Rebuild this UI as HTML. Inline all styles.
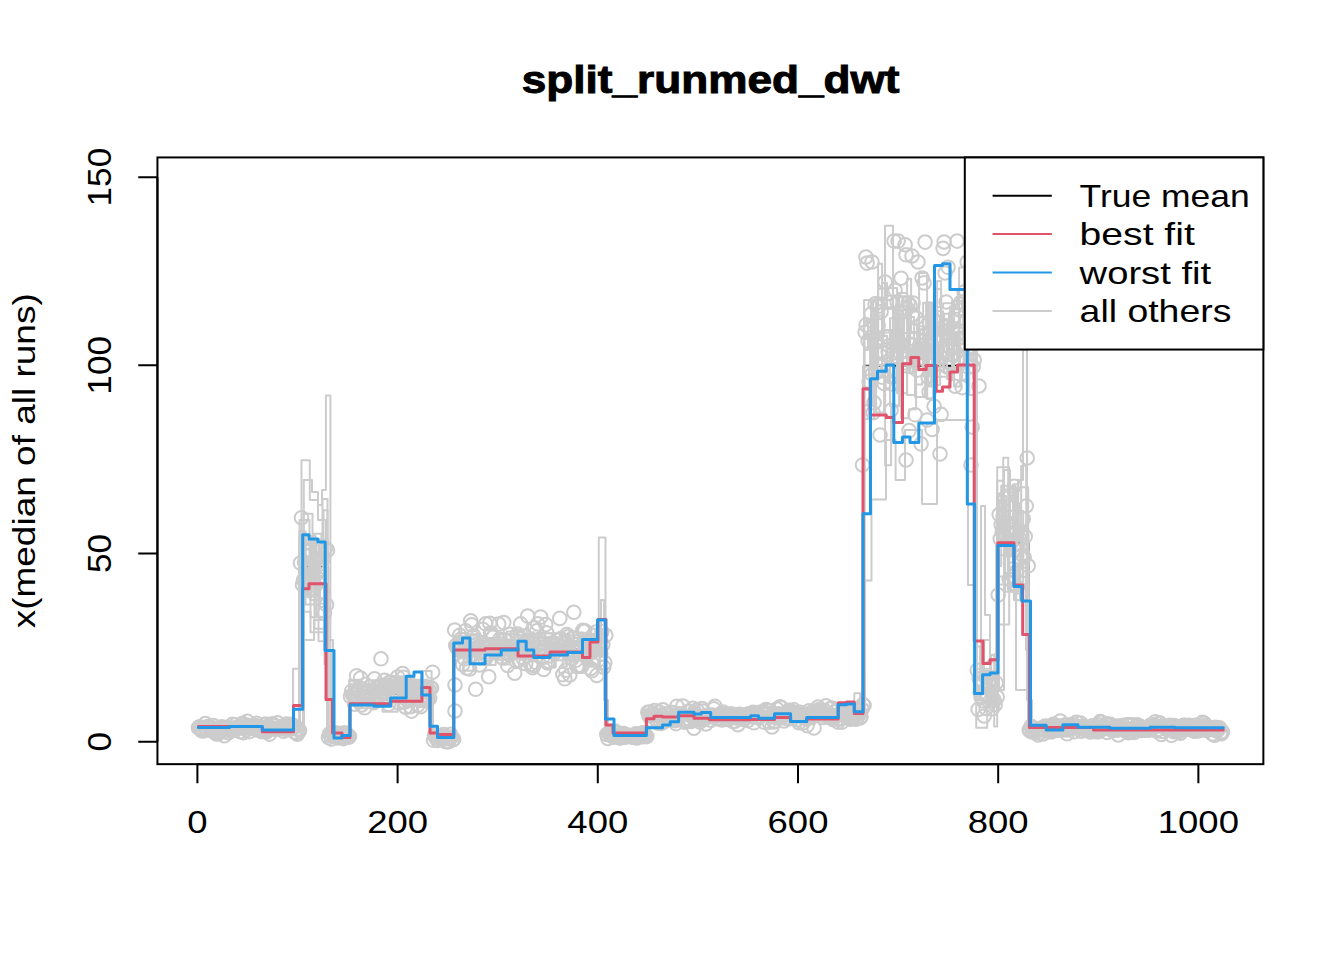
<!DOCTYPE html><html><head><meta charset="utf-8"><style>html,body{margin:0;padding:0;background:#fff;}svg{display:block;}</style></head><body>
<svg width="1344" height="960" viewBox="0 0 1344 960">
<rect width="1344" height="960" fill="#fff"/>
<defs><clipPath id="pc"><rect x="157.44" y="157.44" width="1105.92" height="606.72"/></clipPath></defs>
<g clip-path="url(#pc)" fill="none" stroke-linejoin="round" stroke-linecap="round">
<path d="M198.4 728.0H299.8V566.8H328.1V735.5H350.0V693.8H432.5V737.0H453.8V649.5H606.0V735.5H647.0V717.5H863.8V365.8H976.0V688.8H997.3V542.7H1028.5V728.5H1223.3" stroke="#000" stroke-width="2"/>
<g stroke="#CCCCCC" stroke-width="2">
<path d="M286 728H293V668.8H300V560H301.5V460.3H309.8V500H318V520H326V640H333V735H345"/>
<path d="M290 729H303.8V480H312V492H318V505H322V490H325.9V395.4H330.4V735H345"/>
<path d="M296 727H303V640H314V620H326V700H332V736H345"/>
<path d="M300 728H304V545H310V600H320V560H324V650H331V737"/>
<path d="M590 650H598.75V537.5H605.5V735H615"/>
<path d="M596 655H601V600H604V700H608V735"/>
<path d="M850 717H854.3V693.2H860.2V717H865V580.6H871.5V499.6H886V440H895.6V480H905V430H922V504H937V420H968V585H976V700H990"/>
<path d="M975 690H981V506H985V615H990V690"/>
<path d="M870 380H878V300H885V225.8H893V330H900V400"/>
<path d="M300 728H299V728"/>
<path d="M996 690H1004V470H1010V540H1018V480H1023V350H1027V700H1032V728H1045"/>
<path d="M990 690H999V500H1006V520H1014V600H1020V560H1026V650H1030V728H1040"/>
<path d="M980 688H984V640H990V700H996V545H1008V590H1016V690H1031V728"/>
<path d="M198.4 729.2H208.4V725.4H219.4V726.8H233.4V729.8H247.4V728.3H257.5V727.9H262.5V725.1H270.5V727.5H279.5V729.2H293.5V726.9H299.5V535.4H305.5V568.3H318.5V641.3H327.5V736.1H343.5V736.2H349.5V697.7H358.6V702.1H372.6V690.8H384.6V683.1H393.6V700.1H408.6V694.8H424.6V684.2H431.6V696.9H432.6V735.9H445.6V737.7H453.7V656.7H469.7V653.5H478.7V665.1H489.7V653.0H496.7V644.7H500.7V639.5H510.7V657.0H518.7V639.6H524.7V653.9H538.7V649.1H551.7V660.3H562.8V666.4H566.8V656.6H582.8V650.0H595.8V647.0H605.8V735.5H619.8V734.0H626.8V735.3H633.8V736.1H638.8V735.1H644.8V736.3H646.8V713.0H658.9V714.4H669.9V709.3H680.9V708.5H684.9V714.5H688.9V708.2H697.9V719.0H704.9V714.8H719.9V717.1H732.9V716.1H746.9V713.2H751.9V716.6H765.0V719.0H780.0V715.6H788.0V716.0H794.0V712.3H810.0V713.9H819.0V714.4H827.0V715.8H836.0V716.4H846.0V718.7H860.0V711.4H864.1V366.6H871.1V357.8H882.1V335.8H887.1V365.6H894.1V367.7H901.1V418.2H909.1V409.3H916.1V342.6H923.1V319.3H928.1V386.6H937.1V281.0H941.1V330.5H948.1V358.5H952.1V305.5H957.1V297.3H963.1V336.5H973.2V320.3H976.2V700.2H981.2V687.6H990.2V706.5H997.2V533.7H1003.2V457.7H1008.2V587.0H1018.2V565.8H1023.2V542.5H1028.2V727.9H1037.2V729.3H1048.2V729.8H1062.2V729.9H1076.3V727.7H1086.3V730.1H1102.3V729.1H1112.3V727.8H1126.3V729.4H1133.3V731.3H1138.3V730.3H1154.3V731.8H1167.3V729.0H1172.4V729.1H1186.4V729.7H1201.4V728.5H1208.4V728.7H1215.4V728.7H1222.4"/>
<path d="M198.4 729.1H213.4V727.4H222.4V726.8H235.4V728.5H244.4V726.4H257.5V726.1H273.5V725.7H281.5V728.0H293.5V726.5H298.5V727.5H299.5V586.7H310.5V632.2H324.5V600.2H327.5V734.3H340.5V734.2H345.5V736.0H349.5V698.0H353.6V693.6H361.6V687.2H373.6V693.3H383.6V692.0H393.6V698.2H398.6V702.7H411.6V681.9H424.6V690.0H428.6V686.8H432.6V735.3H437.6V738.2H452.6V737.7H453.7V643.5H462.7V639.4H473.7V639.4H482.7V638.0H495.7V659.8H502.7V649.3H515.7V651.2H524.7V641.4H538.7V655.3H547.7V637.4H557.8V646.6H567.8V641.3H579.8V645.7H589.8V666.8H599.8V651.7H604.8V655.7H605.8V734.0H621.8V735.8H626.8V733.0H639.8V735.8H646.8V714.7H661.9V714.1H673.9V713.0H679.9V716.9H690.9V714.9H704.9V713.1H720.9V714.4H734.9V715.7H746.9V717.6H754.9V711.3H770.0V715.8H777.0V713.3H784.0V711.6H794.0V714.4H800.0V717.0H805.0V713.9H819.0V711.2H823.0V714.2H835.0V710.9H849.0V714.9H860.0V719.0H864.1V389.9H869.1V369.9H873.1V299.5H882.1V283.1H887.1V307.3H895.1V348.0H904.1V338.4H915.1V359.2H921.1V342.3H927.1V398.9H934.1V332.5H940.1V334.9H949.1V312.8H958.1V315.1H969.2V395.1H976.2V700.0H988.2V676.9H997.2V624.5H1009.2V562.6H1013.2V484.3H1018.2V527.2H1027.2V584.8H1028.2V726.4H1043.2V728.5H1051.2V728.9H1063.2V727.2H1070.3V724.5H1075.3V726.6H1080.3V727.7H1085.3V726.5H1093.3V730.4H1106.3V728.1H1120.3V727.2H1134.3V727.9H1142.3V729.7H1151.3V728.4H1159.3V729.6H1172.4V730.4H1177.4V729.3H1191.4V730.6H1198.4V731.0H1213.4V727.9H1222.4"/>
<path d="M198.4 724.8H209.4V728.8H222.4V726.4H234.4V728.3H241.4V725.2H250.5V729.5H259.5V729.8H268.5V727.3H275.5V729.8H287.5V727.0H295.5V726.9H299.5V543.3H313.5V545.2H319.5V578.4H327.5V735.1H334.5V738.9H339.5V736.1H349.5V679.8H360.6V708.2H366.6V700.2H372.6V684.5H385.6V684.3H395.6V690.6H402.6V687.0H414.6V697.1H422.6V670.9H431.6V686.4H432.6V738.6H442.6V735.0H453.7V636.6H464.7V648.4H480.7V649.6H490.7V664.9H495.7V647.6H509.7V655.7H514.7V649.1H527.7V633.8H537.7V648.6H548.7V639.2H556.8V650.8H565.8V641.4H572.8V650.4H581.8V658.2H589.8V636.0H598.8V653.9H603.8V655.0H605.8V736.6H617.8V733.7H626.8V732.6H631.8V736.1H646.8V713.3H655.8V713.0H664.9V714.6H669.9V713.6H681.9V717.2H685.9V720.6H698.9V716.8H704.9V715.9H711.9V718.3H720.9V714.1H732.9V719.7H739.9V718.3H754.9V713.2H765.0V712.9H770.0V716.5H786.0V720.0H795.0V710.9H805.0V723.8H815.0V708.2H821.0V718.5H831.0V714.9H844.0V715.1H851.0V719.9H859.0V714.0H864.1V333.7H870.1V338.5H878.1V263.7H882.1V332.5H890.1V406.2H899.1V296.2H909.1V373.2H913.1V343.3H923.1V376.6H929.1V358.7H933.1V357.8H942.1V319.1H947.1V360.8H957.1V331.7H964.1V344.6H970.2V263.7H976.2V672.8H991.2V691.9H997.2V566.0H1001.2V485.8H1015.2V567.7H1027.2V550.3H1028.2V729.2H1036.2V729.1H1046.2V728.8H1050.2V726.1H1057.2V727.8H1069.3V727.3H1084.3V726.3H1100.3V727.4H1112.3V724.5H1122.3V726.8H1134.3V726.0H1138.3V727.4H1148.3V726.6H1157.3V727.9H1169.3V729.9H1183.4V729.5H1195.4V728.7H1209.4V727.8H1222.4"/>
<path d="M198.4 730.0H204.4V726.0H220.4V726.7H235.4V727.9H250.5V726.9H254.5V730.4H270.5V726.6H282.5V730.6H294.5V726.2H299.5V571.0H303.5V513.7H312.5V560.4H323.5V510.2H327.5V736.3H334.5V735.5H339.5V733.3H349.5V698.7H359.6V701.4H366.6V686.5H382.6V711.7H397.6V691.8H404.6V695.2H413.6V679.8H427.6V699.9H432.6V735.0H440.6V734.8H444.6V736.7H448.6V737.3H453.7V638.8H468.7V648.3H478.7V647.9H484.7V652.8H496.7V633.3H506.7V634.1H518.7V657.0H526.7V642.7H540.7V643.3H549.7V653.5H558.8V648.1H566.8V658.4H572.8V642.1H584.8V645.4H589.8V638.9H603.8V648.1H605.8V732.8H618.8V735.7H633.8V734.5H646.8V718.1H661.9V715.2H667.9V721.5H678.9V716.0H685.9V716.8H698.9V720.5H702.9V715.6H717.9V715.1H731.9V713.5H736.9V719.2H750.9V711.4H767.0V717.6H774.0V712.1H778.0V716.6H789.0V714.7H805.0V712.2H815.0V718.0H826.0V718.5H839.0V718.1H848.0V718.0H852.0V718.2H864.1V337.0H870.1V366.6H876.1V336.7H884.1V330.1H892.1V363.4H898.1V372.2H906.1V373.0H910.1V311.4H919.1V369.6H923.1V302.7H929.1V358.5H937.1V376.7H948.1V369.6H959.1V267.5H964.1V355.1H971.2V360.3H976.2V691.7H988.2V685.1H997.2V467.2H1009.2V487.9H1013.2V527.6H1023.2V585.9H1028.2V728.7H1037.2V728.9H1052.2V731.8H1059.2V729.1H1074.3V729.2H1080.3V728.9H1084.3V727.9H1096.3V729.9H1112.3V728.1H1118.3V729.1H1128.3V729.4H1143.3V728.6H1147.3V726.7H1161.3V726.2H1169.3V727.3H1180.4V727.3H1187.4V730.7H1201.4V730.5H1209.4V729.1H1219.4V729.3H1222.4"/>
<path d="M198.4 727.6H203.4V727.0H219.4V729.9H226.4V728.4H236.4V729.5H242.4V729.3H249.5V727.8H256.5V726.9H270.5V729.3H282.5V729.2H296.5V727.1H299.5V520.1H309.5V584.9H316.5V553.9H327.5V734.1H333.5V734.1H338.5V735.5H345.5V733.8H349.5V692.5H360.6V690.5H373.6V691.1H378.6V693.9H388.6V685.9H404.6V686.8H420.6V689.1H427.6V708.3H432.6V737.3H436.6V738.3H443.6V737.0H451.6V736.2H453.7V653.3H463.7V662.2H471.7V643.1H483.7V642.2H492.7V655.3H506.7V631.4H522.7V654.5H538.7V650.4H547.7V656.0H562.8V635.3H577.8V653.6H582.8V639.5H597.8V639.9H604.8V639.6H605.8V736.3H620.8V736.9H632.8V736.9H636.8V736.1H642.8V732.7H646.8V717.4H652.8V713.0H656.8V714.0H668.9V719.1H673.9V711.3H679.9V716.9H684.9V712.4H690.9V715.0H703.9V716.6H707.9V717.7H714.9V715.1H718.9V712.0H733.9V720.1H743.9V714.2H756.9V714.1H765.0V712.3H773.0V718.3H780.0V712.6H791.0V721.9H797.0V712.3H811.0V716.4H826.0V719.6H840.0V718.9H851.0V716.5H864.1V419.1H874.1V315.8H882.1V377.4H890.1V318.3H897.1V393.3H907.1V278.8H911.1V332.9H919.1V334.5H925.1V356.7H934.1V307.1H943.1V303.2H954.1V367.1H964.1V277.0H971.2V330.5H976.2V646.4H980.2V681.8H988.2V674.8H992.2V710.9H997.2V496.1H1006.2V556.4H1022.2V531.0H1028.2V728.5H1044.2V727.7H1059.2V731.6H1073.3V729.1H1077.3V728.9H1091.3V730.4H1107.3V727.6H1121.3V729.5H1126.3V730.6H1133.3V728.0H1141.3V730.0H1149.3V726.9H1159.3V727.0H1163.3V729.0H1171.4V730.2H1176.4V728.1H1191.4V726.8H1202.4V726.7H1208.4V727.3H1221.4V727.8H1222.4"/>
<path d="M198.4 727.2H206.4V727.4H222.4V726.3H229.4V725.2H241.4V727.9H246.4V727.9H255.5V728.1H269.5V728.2H278.5V729.7H283.5V728.3H294.5V724.5H299.5V531.5H305.5V604.4H314.5V541.4H322.5V498.9H327.5V734.8H343.5V735.2H349.5V691.9H356.6V693.7H366.6V687.2H380.6V687.7H390.6V701.8H402.6V680.6H409.6V684.1H422.6V681.1H429.6V685.6H432.6V737.5H439.6V737.3H450.6V737.2H453.7V647.4H461.7V649.4H474.7V645.7H485.7V655.0H499.7V648.7H507.7V652.5H522.7V652.9H538.7V633.2H551.7V644.9H560.8V648.7H570.8V645.9H577.8V648.9H590.8V646.0H595.8V637.7H605.8V732.9H618.8V736.3H628.8V736.4H643.8V733.3H646.8V715.6H657.8V712.6H663.9V718.8H677.9V716.5H687.9V715.0H692.9V715.7H708.9V717.5H714.9V716.6H729.9V713.8H735.9V710.9H742.9V715.8H757.9V716.7H769.0V718.3H777.0V715.9H785.0V713.3H799.0V715.1H806.0V714.3H822.0V716.2H838.0V713.6H851.0V714.6H862.0V712.5H864.1V300.0H871.1V367.7H878.1V288.8H882.1V366.3H893.1V381.2H900.1V358.1H907.1V394.9H915.1V384.6H922.1V382.2H931.1V364.4H939.1V343.7H944.1V313.7H949.1V352.7H959.1V369.2H966.2V282.1H973.2V378.6H976.2V688.6H987.2V679.6H994.2V654.2H997.2V555.2H1011.2V540.0H1019.2V528.5H1028.2V728.3H1038.2V728.4H1047.2V731.7H1052.2V728.4H1061.2V730.4H1069.3V729.1H1077.3V728.0H1083.3V729.9H1095.3V727.3H1099.3V729.3H1114.3V730.6H1125.3V727.5H1130.3V731.0H1136.3V727.4H1147.3V729.1H1151.3V730.2H1162.3V726.6H1166.3V728.2H1171.4V731.2H1183.4V727.1H1190.4V725.9H1196.4V726.6H1208.4V729.4H1220.4V728.5H1222.4"/>
<path d="M198.4 727.1H210.4V726.4H219.4V725.8H232.4V729.8H238.4V727.2H251.5V731.3H261.5V726.6H270.5V728.5H284.5V724.6H296.5V728.9H299.5V562.9H308.5V595.4H315.5V552.1H326.5V583.7H327.5V733.2H342.5V734.5H347.5V734.9H349.5V680.8H358.6V691.9H365.6V698.9H380.6V693.6H385.6V694.3H391.6V687.8H405.6V696.7H414.6V691.7H427.6V697.3H432.6V739.0H442.6V739.8H447.6V737.0H453.7V653.2H457.7V655.9H467.7V634.2H477.7V658.4H492.7V643.8H499.7V651.0H510.7V640.4H517.7V635.3H530.7V650.5H534.7V640.4H544.7V633.2H559.8V652.6H563.8V657.7H568.8V632.5H583.8V664.9H599.8V649.2H605.8V733.1H612.8V735.7H624.8V734.6H638.8V733.5H646.8V712.3H660.9V713.9H667.9V715.2H675.9V715.3H686.9V718.6H698.9V718.2H706.9V719.6H714.9V711.9H727.9V715.7H731.9V717.7H745.9V714.0H759.9V713.2H775.0V712.4H788.0V717.1H799.0V720.2H804.0V713.1H809.0V716.7H813.0V711.9H826.0V723.9H834.0V715.3H842.0V712.2H849.0V708.2H859.0V715.2H864.1V349.7H868.1V319.4H876.1V297.6H887.1V288.0H897.1V372.8H903.1V302.0H909.1V317.1H914.1V365.0H918.1V356.9H927.1V302.4H932.1V385.0H940.1V320.6H948.1V322.3H959.1V289.8H970.2V324.7H976.2V678.0H991.2V654.9H997.2V493.5H1003.2V545.8H1008.2V569.8H1016.2V600.3H1020.2V560.2H1028.2V727.8H1032.2V726.4H1036.2V728.1H1052.2V729.6H1058.2V729.7H1071.3V729.3H1085.3V728.5H1095.3V730.7H1108.3V728.9H1117.3V728.3H1132.3V725.7H1148.3V729.0H1163.3V731.0H1174.4V731.1H1189.4V727.4H1197.4V728.4H1203.4V729.5H1207.4V726.4H1215.4V729.6H1219.4V729.7H1222.4"/>
<path d="M198.4 726.5H206.4V729.5H212.4V729.9H224.4V727.1H235.4V723.9H245.4V726.3H252.5V727.4H263.5V728.2H271.5V728.1H287.5V724.9H296.5V730.6H299.5V554.2H303.5V588.5H313.5V533.7H321.5V560.9H327.5V734.6H340.5V738.7H346.5V732.2H349.5V684.3H357.6V702.3H373.6V692.6H386.6V696.1H390.6V684.4H402.6V692.7H406.6V706.1H411.6V691.0H427.6V697.0H432.6V734.3H446.6V739.0H451.6V738.4H453.7V639.3H467.7V645.8H473.7V653.7H478.7V640.3H489.7V655.1H496.7V637.6H505.7V647.8H513.7V642.6H529.7V636.6H545.7V639.4H549.7V651.1H553.7V647.5H557.8V649.9H566.8V660.3H573.8V655.4H579.8V633.5H589.8V643.4H595.8V652.2H605.8V735.4H612.8V736.5H623.8V736.4H635.8V735.7H639.8V736.5H646.8V716.2H659.9V712.4H665.9V716.3H680.9V715.0H692.9V717.4H705.9V716.6H718.9V713.5H728.9V711.6H744.9V716.6H761.0V716.7H775.0V716.8H786.0V717.0H798.0V714.9H809.0V718.9H813.0V712.4H820.0V717.2H828.0V717.6H835.0V712.0H849.0V717.8H862.0V716.6H864.1V334.7H872.1V335.3H876.1V360.1H885.1V465.3H891.1V405.5H902.1V333.0H912.1V332.0H920.1V354.4H931.1V345.7H939.1V359.8H944.1V372.5H952.1V301.0H962.1V308.9H967.2V349.7H974.2V347.0H976.2V679.9H981.2V684.1H990.2V701.3H997.2V480.8H1003.2V546.4H1016.2V487.3H1028.2V726.9H1043.2V729.1H1049.2V725.0H1063.2V727.7H1069.3V728.8H1076.3V730.5H1083.3V727.9H1093.3V728.9H1101.3V730.3H1105.3V729.0H1121.3V730.7H1135.3V726.8H1148.3V724.3H1159.3V729.4H1172.4V729.8H1178.4V729.1H1187.4V729.4H1202.4V727.1H1213.4V727.6H1220.4V728.2H1222.4"/>
<path d="M198.4 726.8H212.4V729.4H226.4V728.5H233.4V725.3H244.4V725.8H252.5V729.6H260.5V727.5H271.5V727.7H276.5V728.1H283.5V728.4H287.5V726.5H292.5V728.2H298.5V727.9H299.5V536.1H315.5V576.9H324.5V581.5H327.5V737.9H342.5V737.3H349.5V686.6H363.6V704.2H368.6V698.8H374.6V697.9H385.6V700.6H399.6V693.5H414.6V688.8H428.6V689.4H432.6V738.3H447.6V736.3H453.7V647.9H468.7V656.5H479.7V647.0H489.7V650.2H498.7V654.1H513.7V629.6H526.7V650.6H541.7V645.4H551.7V667.6H555.7V653.6H568.8V637.9H578.8V654.1H589.8V649.9H598.8V648.2H605.8V735.9H618.8V736.8H625.8V735.6H640.8V733.1H644.8V734.5H646.8V711.9H660.9V712.4H669.9V712.2H681.9V715.8H687.9V714.9H691.9V714.5H695.9V717.8H703.9V721.8H715.9V721.5H728.9V715.2H740.9V720.5H754.9V713.4H763.0V715.1H772.0V710.4H778.0V719.1H783.0V712.3H798.0V714.2H808.0V712.6H819.0V717.2H823.0V717.9H832.0V715.7H842.0V719.8H855.0V713.7H861.0V715.6H864.1V405.2H872.1V367.8H876.1V340.1H882.1V361.1H893.1V343.2H900.1V340.7H904.1V317.3H908.1V357.2H917.1V326.2H926.1V303.2H931.1V336.0H942.1V339.8H950.1V306.8H955.1V309.2H960.1V311.5H971.2V337.2H975.2V342.1H976.2V727.7H987.2V686.6H997.2V576.6H1013.2V566.9H1021.2V465.8H1026.2V531.9H1028.2V730.9H1040.2V729.1H1049.2V725.6H1055.2V731.9H1061.2V728.4H1076.3V729.2H1083.3V731.8H1091.3V726.0H1100.3V731.4H1113.3V729.4H1120.3V725.0H1131.3V728.8H1136.3V726.9H1143.3V729.4H1157.3V727.5H1168.3V731.2H1178.4V725.5H1187.4V729.4H1193.4V728.0H1207.4V730.6H1221.4V729.3H1222.4"/>
<path d="M198.4 727.7H213.4V726.1H225.4V727.0H236.4V726.9H245.4V727.4H257.5V729.2H261.5V727.1H271.5V727.7H280.5V727.6H293.5V728.9H299.5V571.2H307.5V597.3H311.5V539.5H327.5V736.6H337.5V736.1H342.5V736.1H346.5V736.8H349.5V695.0H359.6V693.7H372.6V680.2H388.6V693.7H404.6V679.6H411.6V688.9H423.6V685.1H432.6V733.5H443.6V736.8H448.6V735.2H453.7V651.4H463.7V670.8H474.7V640.8H478.7V642.3H488.7V640.9H496.7V648.6H501.7V641.2H507.7V650.9H517.7V640.3H525.7V658.3H538.7V645.6H549.7V654.4H555.7V645.0H562.8V660.1H574.8V656.6H587.8V659.7H591.8V646.6H599.8V643.5H605.8V736.7H620.8V735.1H634.8V734.4H638.8V736.6H646.8V712.4H651.8V714.3H660.9V717.3H671.9V715.1H679.9V712.9H686.9V715.1H696.9V715.9H705.9V714.8H720.9V715.3H736.9V714.2H749.9V719.7H755.9V714.1H761.0V714.6H776.0V719.0H783.0V720.0H791.0V714.1H802.0V709.0H812.0V718.1H825.0V713.0H830.0V719.9H838.0V708.2H851.0V713.3H864.1V322.2H873.1V331.6H884.1V300.0H893.1V388.4H898.1V292.9H907.1V323.9H917.1V333.6H926.1V364.6H935.1V289.1H941.1V324.1H947.1V328.5H956.1V324.1H960.1V316.0H970.2V324.0H975.2V267.2H976.2V691.1H990.2V671.8H997.2V515.8H1005.2V591.7H1018.2V577.0H1028.2V729.8H1038.2V729.0H1049.2V727.3H1063.2V729.5H1074.3V727.4H1082.3V729.9H1096.3V729.5H1105.3V729.3H1109.3V730.2H1117.3V728.8H1123.3V730.0H1132.3V730.6H1139.3V727.8H1155.3V727.0H1161.3V727.0H1165.3V727.5H1173.4V730.7H1185.4V726.7H1195.4V728.9H1202.4V728.0H1212.4V731.3H1222.4"/>
<path d="M198.4 726.6H203.4V727.7H209.4V726.3H218.4V729.3H226.4V728.5H240.4V729.1H255.5V729.3H263.5V724.9H275.5V724.8H291.5V729.4H299.5V611.8H310.5V617.2H316.5V541.2H327.5V737.6H336.5V736.9H341.5V735.5H349.5V687.2H360.6V705.3H372.6V687.5H377.6V694.9H387.6V704.5H392.6V702.0H398.6V694.3H403.6V700.2H408.6V679.9H420.6V694.2H429.6V681.6H432.6V736.5H447.6V738.1H453.7V660.0H457.7V651.9H463.7V649.9H479.7V644.1H484.7V646.6H493.7V655.9H502.7V664.5H509.7V655.5H516.7V653.2H527.7V657.6H537.7V656.6H549.7V647.4H553.7V653.2H568.8V649.9H572.8V656.0H586.8V634.1H597.8V653.4H605.8V733.7H612.8V733.6H617.8V733.0H623.8V735.2H639.8V735.6H646.8V713.6H651.8V716.0H658.9V711.6H666.9V718.6H674.9V713.0H685.9V712.1H695.9V718.7H707.9V714.0H714.9V710.1H730.9V714.8H735.9V716.3H744.9V717.6H751.9V712.0H763.0V717.6H773.0V712.8H782.0V712.5H797.0V717.8H803.0V712.3H815.0V717.4H823.0V712.9H838.0V710.7H842.0V723.3H854.0V719.8H860.0V715.8H864.1V320.4H871.1V365.0H878.1V336.0H887.1V342.8H891.1V363.0H897.1V313.6H901.1V369.5H907.1V356.1H915.1V397.0H925.1V366.2H934.1V311.3H943.1V368.0H954.1V386.6H960.1V343.5H968.2V348.5H975.2V362.6H976.2V668.7H990.2V688.7H994.2V726.4H997.2V511.8H1002.2V489.6H1014.2V511.1H1023.2V550.8H1028.2V729.5H1033.2V727.1H1045.2V728.9H1056.2V729.0H1065.2V728.0H1074.3V729.8H1078.3V728.1H1091.3V728.5H1105.3V727.0H1110.3V728.7H1126.3V730.1H1141.3V729.5H1153.3V726.7H1159.3V731.4H1170.3V729.8H1180.4V730.0H1187.4V728.1H1199.4V727.6H1213.4V728.0H1218.4V727.2H1222.4"/>
<path d="M198.4 726.7H206.4V727.5H218.4V727.9H232.4V727.9H246.4V727.2H256.5V728.5H266.5V726.6H282.5V730.3H292.5V725.4H296.5V731.8H299.5V540.8H314.5V628.8H324.5V664.1H327.5V733.5H343.5V734.3H349.5V693.4H359.6V698.5H373.6V685.6H383.6V693.8H391.6V684.2H401.6V694.5H407.6V690.5H422.6V683.0H432.6V736.7H442.6V737.3H453.7V654.1H458.7V647.7H465.7V653.6H477.7V653.6H493.7V640.9H499.7V641.8H505.7V652.4H512.7V657.0H521.7V643.9H529.7V632.3H533.7V638.6H546.7V649.9H558.8V645.4H565.8V637.3H570.8V641.2H582.8V653.5H594.8V638.0H600.8V650.0H605.8V734.0H620.8V735.6H629.8V735.8H644.8V734.3H646.8V719.1H662.9V717.7H676.9V713.2H680.9V715.4H687.9V720.5H696.9V719.9H704.9V714.5H716.9V715.5H721.9V709.3H728.9V713.6H735.9V715.0H751.9V712.5H759.9V712.1H770.0V712.3H781.0V713.9H790.0V714.0H800.0V719.2H806.0V709.9H819.0V714.7H828.0V714.4H841.0V716.5H846.0V722.3H850.0V720.3H858.0V715.6H864.1V349.7H868.1V320.9H876.1V412.5H884.1V369.3H888.1V383.0H897.1V345.4H904.1V350.3H911.1V357.6H919.1V273.0H927.1V398.4H933.1V331.9H939.1V325.5H947.1V379.2H952.1V367.8H962.1V379.7H966.2V344.9H970.2V317.1H976.2V689.1H981.2V671.1H995.2V671.8H997.2V584.5H1009.2V510.7H1020.2V584.0H1028.2V728.7H1033.2V729.3H1042.2V726.4H1054.2V732.3H1063.2V725.1H1071.3V728.5H1084.3V727.4H1095.3V725.8H1108.3V728.4H1121.3V728.8H1127.3V728.3H1140.3V727.5H1148.3V728.5H1163.3V729.5H1179.4V728.7H1192.4H1197.4V726.2H1202.4V728.7H1214.4V726.9H1219.4V729.7H1222.4"/>
<circle cx="198.4" cy="727.8" r="6.8"/>
<circle cx="199.4" cy="726.8" r="6.8"/>
<circle cx="200.4" cy="728.7" r="6.8"/>
<circle cx="201.4" cy="730.6" r="6.8"/>
<circle cx="202.4" cy="729.2" r="6.8"/>
<circle cx="203.4" cy="730.9" r="6.8"/>
<circle cx="204.4" cy="727.6" r="6.8"/>
<circle cx="205.4" cy="723.5" r="6.8"/>
<circle cx="206.4" cy="729.3" r="6.8"/>
<circle cx="207.4" cy="729.8" r="6.8"/>
<circle cx="208.4" cy="726.2" r="6.8"/>
<circle cx="209.4" cy="726.6" r="6.8"/>
<circle cx="210.4" cy="727.4" r="6.8"/>
<circle cx="211.4" cy="730.8" r="6.8"/>
<circle cx="212.4" cy="727.9" r="6.8"/>
<circle cx="213.4" cy="725.5" r="6.8"/>
<circle cx="214.4" cy="732.1" r="6.8"/>
<circle cx="215.4" cy="729.2" r="6.8"/>
<circle cx="216.4" cy="733.9" r="6.8"/>
<circle cx="217.4" cy="731.9" r="6.8"/>
<circle cx="218.4" cy="733.7" r="6.8"/>
<circle cx="219.4" cy="728.5" r="6.8"/>
<circle cx="220.4" cy="731.8" r="6.8"/>
<circle cx="221.4" cy="726.9" r="6.8"/>
<circle cx="222.4" cy="727.3" r="6.8"/>
<circle cx="223.4" cy="728.4" r="6.8"/>
<circle cx="224.4" cy="735.8" r="6.8"/>
<circle cx="225.4" cy="729.5" r="6.8"/>
<circle cx="226.4" cy="727.9" r="6.8"/>
<circle cx="227.4" cy="727.4" r="6.8"/>
<circle cx="228.4" cy="732.7" r="6.8"/>
<circle cx="229.4" cy="729.3" r="6.8"/>
<circle cx="230.4" cy="730.9" r="6.8"/>
<circle cx="231.4" cy="730.4" r="6.8"/>
<circle cx="232.4" cy="724.4" r="6.8"/>
<circle cx="233.4" cy="730.4" r="6.8"/>
<circle cx="234.4" cy="727.9" r="6.8"/>
<circle cx="235.4" cy="724.9" r="6.8"/>
<circle cx="236.4" cy="729.6" r="6.8"/>
<circle cx="237.4" cy="728.1" r="6.8"/>
<circle cx="238.4" cy="727.4" r="6.8"/>
<circle cx="239.4" cy="727.6" r="6.8"/>
<circle cx="240.4" cy="731.7" r="6.8"/>
<circle cx="241.4" cy="727.5" r="6.8"/>
<circle cx="242.4" cy="723.4" r="6.8"/>
<circle cx="243.4" cy="732.7" r="6.8"/>
<circle cx="244.4" cy="725.0" r="6.8"/>
<circle cx="245.4" cy="727.4" r="6.8"/>
<circle cx="246.4" cy="729.8" r="6.8"/>
<circle cx="247.4" cy="721.4" r="6.8"/>
<circle cx="248.4" cy="725.3" r="6.8"/>
<circle cx="249.5" cy="731.6" r="6.8"/>
<circle cx="250.5" cy="727.5" r="6.8"/>
<circle cx="251.5" cy="725.9" r="6.8"/>
<circle cx="252.5" cy="728.4" r="6.8"/>
<circle cx="253.5" cy="725.6" r="6.8"/>
<circle cx="254.5" cy="728.0" r="6.8"/>
<circle cx="255.5" cy="725.6" r="6.8"/>
<circle cx="256.5" cy="723.2" r="6.8"/>
<circle cx="257.5" cy="729.9" r="6.8"/>
<circle cx="258.5" cy="727.1" r="6.8"/>
<circle cx="259.5" cy="729.3" r="6.8"/>
<circle cx="260.5" cy="727.4" r="6.8"/>
<circle cx="261.5" cy="731.6" r="6.8"/>
<circle cx="262.5" cy="729.6" r="6.8"/>
<circle cx="263.5" cy="728.4" r="6.8"/>
<circle cx="264.5" cy="724.9" r="6.8"/>
<circle cx="265.5" cy="724.1" r="6.8"/>
<circle cx="266.5" cy="732.0" r="6.8"/>
<circle cx="267.5" cy="730.3" r="6.8"/>
<circle cx="268.5" cy="725.7" r="6.8"/>
<circle cx="269.5" cy="734.1" r="6.8"/>
<circle cx="270.5" cy="729.3" r="6.8"/>
<circle cx="271.5" cy="728.1" r="6.8"/>
<circle cx="272.5" cy="723.8" r="6.8"/>
<circle cx="273.5" cy="725.6" r="6.8"/>
<circle cx="274.5" cy="728.8" r="6.8"/>
<circle cx="275.5" cy="729.0" r="6.8"/>
<circle cx="276.5" cy="728.6" r="6.8"/>
<circle cx="277.5" cy="722.9" r="6.8"/>
<circle cx="278.5" cy="729.1" r="6.8"/>
<circle cx="279.5" cy="728.7" r="6.8"/>
<circle cx="280.5" cy="726.6" r="6.8"/>
<circle cx="281.5" cy="728.2" r="6.8"/>
<circle cx="282.5" cy="728.4" r="6.8"/>
<circle cx="283.5" cy="731.3" r="6.8"/>
<circle cx="284.5" cy="727.8" r="6.8"/>
<circle cx="285.5" cy="729.2" r="6.8"/>
<circle cx="286.5" cy="724.0" r="6.8"/>
<circle cx="287.5" cy="725.7" r="6.8"/>
<circle cx="288.5" cy="727.9" r="6.8"/>
<circle cx="289.5" cy="725.6" r="6.8"/>
<circle cx="290.5" cy="728.9" r="6.8"/>
<circle cx="291.5" cy="724.4" r="6.8"/>
<circle cx="292.5" cy="727.8" r="6.8"/>
<circle cx="293.5" cy="725.9" r="6.8"/>
<circle cx="294.5" cy="731.9" r="6.8"/>
<circle cx="295.5" cy="726.7" r="6.8"/>
<circle cx="296.5" cy="733.2" r="6.8"/>
<circle cx="297.5" cy="734.3" r="6.8"/>
<circle cx="298.5" cy="728.7" r="6.8"/>
<circle cx="299.5" cy="730.7" r="6.8"/>
<circle cx="300.5" cy="563.1" r="6.8"/>
<circle cx="301.5" cy="517.7" r="6.8"/>
<circle cx="302.5" cy="584.8" r="6.8"/>
<circle cx="303.5" cy="580.3" r="6.8"/>
<circle cx="304.5" cy="562.2" r="6.8"/>
<circle cx="305.5" cy="555.9" r="6.8"/>
<circle cx="306.5" cy="570.5" r="6.8"/>
<circle cx="307.5" cy="571.2" r="6.8"/>
<circle cx="308.5" cy="551.4" r="6.8"/>
<circle cx="309.5" cy="555.3" r="6.8"/>
<circle cx="310.5" cy="589.3" r="6.8"/>
<circle cx="311.5" cy="568.4" r="6.8"/>
<circle cx="312.5" cy="565.9" r="6.8"/>
<circle cx="313.5" cy="589.7" r="6.8"/>
<circle cx="314.5" cy="561.0" r="6.8"/>
<circle cx="315.5" cy="585.4" r="6.8"/>
<circle cx="316.5" cy="545.5" r="6.8"/>
<circle cx="317.5" cy="562.5" r="6.8"/>
<circle cx="318.5" cy="564.7" r="6.8"/>
<circle cx="319.5" cy="579.6" r="6.8"/>
<circle cx="320.5" cy="569.3" r="6.8"/>
<circle cx="321.5" cy="610.3" r="6.8"/>
<circle cx="322.5" cy="591.4" r="6.8"/>
<circle cx="323.5" cy="558.8" r="6.8"/>
<circle cx="324.5" cy="613.2" r="6.8"/>
<circle cx="325.5" cy="548.2" r="6.8"/>
<circle cx="326.5" cy="604.8" r="6.8"/>
<circle cx="327.5" cy="550.2" r="6.8"/>
<circle cx="328.5" cy="737.6" r="6.8"/>
<circle cx="329.5" cy="733.9" r="6.8"/>
<circle cx="330.5" cy="735.4" r="6.8"/>
<circle cx="331.5" cy="739.1" r="6.8"/>
<circle cx="332.5" cy="732.9" r="6.8"/>
<circle cx="333.5" cy="732.4" r="6.8"/>
<circle cx="334.5" cy="735.8" r="6.8"/>
<circle cx="335.5" cy="736.3" r="6.8"/>
<circle cx="336.5" cy="736.0" r="6.8"/>
<circle cx="337.5" cy="737.9" r="6.8"/>
<circle cx="338.5" cy="733.2" r="6.8"/>
<circle cx="339.5" cy="736.9" r="6.8"/>
<circle cx="340.5" cy="735.8" r="6.8"/>
<circle cx="341.5" cy="737.5" r="6.8"/>
<circle cx="342.5" cy="737.1" r="6.8"/>
<circle cx="343.5" cy="738.6" r="6.8"/>
<circle cx="344.5" cy="732.8" r="6.8"/>
<circle cx="345.5" cy="736.0" r="6.8"/>
<circle cx="346.5" cy="733.5" r="6.8"/>
<circle cx="347.5" cy="735.6" r="6.8"/>
<circle cx="348.5" cy="737.2" r="6.8"/>
<circle cx="349.5" cy="736.4" r="6.8"/>
<circle cx="350.5" cy="696.5" r="6.8"/>
<circle cx="351.6" cy="691.2" r="6.8"/>
<circle cx="352.6" cy="694.8" r="6.8"/>
<circle cx="353.6" cy="694.1" r="6.8"/>
<circle cx="354.6" cy="704.2" r="6.8"/>
<circle cx="355.6" cy="698.9" r="6.8"/>
<circle cx="356.6" cy="675.7" r="6.8"/>
<circle cx="357.6" cy="697.6" r="6.8"/>
<circle cx="358.6" cy="701.2" r="6.8"/>
<circle cx="359.6" cy="688.1" r="6.8"/>
<circle cx="360.6" cy="678.0" r="6.8"/>
<circle cx="361.6" cy="704.9" r="6.8"/>
<circle cx="362.6" cy="693.2" r="6.8"/>
<circle cx="363.6" cy="697.2" r="6.8"/>
<circle cx="364.6" cy="707.8" r="6.8"/>
<circle cx="365.6" cy="684.4" r="6.8"/>
<circle cx="366.6" cy="691.5" r="6.8"/>
<circle cx="367.6" cy="690.6" r="6.8"/>
<circle cx="368.6" cy="698.3" r="6.8"/>
<circle cx="369.6" cy="687.0" r="6.8"/>
<circle cx="370.6" cy="696.3" r="6.8"/>
<circle cx="371.6" cy="692.6" r="6.8"/>
<circle cx="372.6" cy="701.7" r="6.8"/>
<circle cx="373.6" cy="702.7" r="6.8"/>
<circle cx="374.6" cy="678.7" r="6.8"/>
<circle cx="375.6" cy="696.0" r="6.8"/>
<circle cx="376.6" cy="688.5" r="6.8"/>
<circle cx="377.6" cy="691.6" r="6.8"/>
<circle cx="378.6" cy="695.4" r="6.8"/>
<circle cx="379.6" cy="696.0" r="6.8"/>
<circle cx="380.6" cy="685.3" r="6.8"/>
<circle cx="381.6" cy="694.1" r="6.8"/>
<circle cx="382.6" cy="692.7" r="6.8"/>
<circle cx="383.6" cy="691.1" r="6.8"/>
<circle cx="384.6" cy="680.2" r="6.8"/>
<circle cx="385.6" cy="684.9" r="6.8"/>
<circle cx="386.6" cy="687.7" r="6.8"/>
<circle cx="387.6" cy="696.6" r="6.8"/>
<circle cx="388.6" cy="704.3" r="6.8"/>
<circle cx="389.6" cy="682.3" r="6.8"/>
<circle cx="390.6" cy="682.2" r="6.8"/>
<circle cx="391.6" cy="692.6" r="6.8"/>
<circle cx="392.6" cy="686.2" r="6.8"/>
<circle cx="393.6" cy="683.9" r="6.8"/>
<circle cx="394.6" cy="683.4" r="6.8"/>
<circle cx="395.6" cy="682.6" r="6.8"/>
<circle cx="396.6" cy="695.6" r="6.8"/>
<circle cx="397.6" cy="677.0" r="6.8"/>
<circle cx="398.6" cy="703.0" r="6.8"/>
<circle cx="399.6" cy="683.2" r="6.8"/>
<circle cx="400.6" cy="686.6" r="6.8"/>
<circle cx="401.6" cy="683.0" r="6.8"/>
<circle cx="402.6" cy="673.6" r="6.8"/>
<circle cx="403.6" cy="677.3" r="6.8"/>
<circle cx="404.6" cy="702.0" r="6.8"/>
<circle cx="405.6" cy="707.2" r="6.8"/>
<circle cx="406.6" cy="683.6" r="6.8"/>
<circle cx="407.6" cy="700.8" r="6.8"/>
<circle cx="408.6" cy="691.4" r="6.8"/>
<circle cx="409.6" cy="683.4" r="6.8"/>
<circle cx="410.6" cy="706.7" r="6.8"/>
<circle cx="411.6" cy="711.1" r="6.8"/>
<circle cx="412.6" cy="688.8" r="6.8"/>
<circle cx="413.6" cy="690.8" r="6.8"/>
<circle cx="414.6" cy="693.6" r="6.8"/>
<circle cx="415.6" cy="690.9" r="6.8"/>
<circle cx="416.6" cy="699.4" r="6.8"/>
<circle cx="417.6" cy="705.5" r="6.8"/>
<circle cx="418.6" cy="692.8" r="6.8"/>
<circle cx="419.6" cy="700.4" r="6.8"/>
<circle cx="420.6" cy="706.7" r="6.8"/>
<circle cx="421.6" cy="686.5" r="6.8"/>
<circle cx="422.6" cy="691.8" r="6.8"/>
<circle cx="423.6" cy="687.4" r="6.8"/>
<circle cx="424.6" cy="700.6" r="6.8"/>
<circle cx="425.6" cy="697.5" r="6.8"/>
<circle cx="426.6" cy="700.7" r="6.8"/>
<circle cx="427.6" cy="699.6" r="6.8"/>
<circle cx="428.6" cy="689.4" r="6.8"/>
<circle cx="429.6" cy="698.6" r="6.8"/>
<circle cx="430.6" cy="687.9" r="6.8"/>
<circle cx="431.6" cy="688.1" r="6.8"/>
<circle cx="432.6" cy="672.2" r="6.8"/>
<circle cx="433.6" cy="740.3" r="6.8"/>
<circle cx="434.6" cy="735.2" r="6.8"/>
<circle cx="435.6" cy="737.4" r="6.8"/>
<circle cx="436.6" cy="737.2" r="6.8"/>
<circle cx="437.6" cy="740.5" r="6.8"/>
<circle cx="438.6" cy="738.2" r="6.8"/>
<circle cx="439.6" cy="735.5" r="6.8"/>
<circle cx="440.6" cy="737.4" r="6.8"/>
<circle cx="441.6" cy="737.0" r="6.8"/>
<circle cx="442.6" cy="737.8" r="6.8"/>
<circle cx="443.6" cy="734.6" r="6.8"/>
<circle cx="444.6" cy="737.2" r="6.8"/>
<circle cx="445.6" cy="741.7" r="6.8"/>
<circle cx="446.6" cy="738.7" r="6.8"/>
<circle cx="447.6" cy="741.6" r="6.8"/>
<circle cx="448.6" cy="741.7" r="6.8"/>
<circle cx="449.6" cy="738.4" r="6.8"/>
<circle cx="450.6" cy="734.2" r="6.8"/>
<circle cx="451.6" cy="737.1" r="6.8"/>
<circle cx="452.6" cy="739.8" r="6.8"/>
<circle cx="453.7" cy="739.3" r="6.8"/>
<circle cx="454.7" cy="630.1" r="6.8"/>
<circle cx="455.7" cy="645.5" r="6.8"/>
<circle cx="456.7" cy="647.2" r="6.8"/>
<circle cx="457.7" cy="648.8" r="6.8"/>
<circle cx="458.7" cy="647.4" r="6.8"/>
<circle cx="459.7" cy="635.3" r="6.8"/>
<circle cx="460.7" cy="639.2" r="6.8"/>
<circle cx="461.7" cy="644.6" r="6.8"/>
<circle cx="462.7" cy="664.5" r="6.8"/>
<circle cx="463.7" cy="639.9" r="6.8"/>
<circle cx="464.7" cy="658.8" r="6.8"/>
<circle cx="465.7" cy="630.7" r="6.8"/>
<circle cx="466.7" cy="668.1" r="6.8"/>
<circle cx="467.7" cy="650.2" r="6.8"/>
<circle cx="468.7" cy="648.1" r="6.8"/>
<circle cx="469.7" cy="668.9" r="6.8"/>
<circle cx="470.7" cy="620.8" r="6.8"/>
<circle cx="471.7" cy="624.9" r="6.8"/>
<circle cx="472.7" cy="655.3" r="6.8"/>
<circle cx="473.7" cy="635.8" r="6.8"/>
<circle cx="474.7" cy="642.0" r="6.8"/>
<circle cx="475.7" cy="689.3" r="6.8"/>
<circle cx="476.7" cy="644.0" r="6.8"/>
<circle cx="477.7" cy="649.0" r="6.8"/>
<circle cx="478.7" cy="646.7" r="6.8"/>
<circle cx="479.7" cy="665.0" r="6.8"/>
<circle cx="480.7" cy="652.2" r="6.8"/>
<circle cx="481.7" cy="650.8" r="6.8"/>
<circle cx="482.7" cy="629.2" r="6.8"/>
<circle cx="483.7" cy="642.7" r="6.8"/>
<circle cx="484.7" cy="648.1" r="6.8"/>
<circle cx="485.7" cy="623.8" r="6.8"/>
<circle cx="486.7" cy="656.8" r="6.8"/>
<circle cx="487.7" cy="654.1" r="6.8"/>
<circle cx="488.7" cy="676.7" r="6.8"/>
<circle cx="489.7" cy="623.2" r="6.8"/>
<circle cx="490.7" cy="632.7" r="6.8"/>
<circle cx="491.7" cy="633.5" r="6.8"/>
<circle cx="492.7" cy="637.4" r="6.8"/>
<circle cx="493.7" cy="646.2" r="6.8"/>
<circle cx="494.7" cy="644.6" r="6.8"/>
<circle cx="495.7" cy="652.0" r="6.8"/>
<circle cx="496.7" cy="651.2" r="6.8"/>
<circle cx="497.7" cy="647.1" r="6.8"/>
<circle cx="498.7" cy="624.1" r="6.8"/>
<circle cx="499.7" cy="639.2" r="6.8"/>
<circle cx="500.7" cy="648.9" r="6.8"/>
<circle cx="501.7" cy="657.1" r="6.8"/>
<circle cx="502.7" cy="658.0" r="6.8"/>
<circle cx="503.7" cy="622.6" r="6.8"/>
<circle cx="504.7" cy="640.0" r="6.8"/>
<circle cx="505.7" cy="646.9" r="6.8"/>
<circle cx="506.7" cy="653.5" r="6.8"/>
<circle cx="507.7" cy="665.5" r="6.8"/>
<circle cx="508.7" cy="649.0" r="6.8"/>
<circle cx="509.7" cy="634.2" r="6.8"/>
<circle cx="510.7" cy="654.2" r="6.8"/>
<circle cx="511.7" cy="651.6" r="6.8"/>
<circle cx="512.7" cy="651.5" r="6.8"/>
<circle cx="513.7" cy="646.3" r="6.8"/>
<circle cx="514.7" cy="673.2" r="6.8"/>
<circle cx="515.7" cy="651.7" r="6.8"/>
<circle cx="516.7" cy="661.5" r="6.8"/>
<circle cx="517.7" cy="634.0" r="6.8"/>
<circle cx="518.7" cy="660.2" r="6.8"/>
<circle cx="519.7" cy="638.9" r="6.8"/>
<circle cx="520.7" cy="623.9" r="6.8"/>
<circle cx="521.7" cy="652.9" r="6.8"/>
<circle cx="522.7" cy="657.5" r="6.8"/>
<circle cx="523.7" cy="645.0" r="6.8"/>
<circle cx="524.7" cy="648.0" r="6.8"/>
<circle cx="525.7" cy="663.7" r="6.8"/>
<circle cx="526.7" cy="640.7" r="6.8"/>
<circle cx="527.7" cy="616.1" r="6.8"/>
<circle cx="528.7" cy="652.1" r="6.8"/>
<circle cx="529.7" cy="651.2" r="6.8"/>
<circle cx="530.7" cy="664.5" r="6.8"/>
<circle cx="531.7" cy="642.9" r="6.8"/>
<circle cx="532.7" cy="667.7" r="6.8"/>
<circle cx="533.7" cy="665.5" r="6.8"/>
<circle cx="534.7" cy="627.8" r="6.8"/>
<circle cx="535.7" cy="662.3" r="6.8"/>
<circle cx="536.7" cy="630.9" r="6.8"/>
<circle cx="537.7" cy="623.9" r="6.8"/>
<circle cx="538.7" cy="643.9" r="6.8"/>
<circle cx="539.7" cy="639.2" r="6.8"/>
<circle cx="540.7" cy="617.1" r="6.8"/>
<circle cx="541.7" cy="651.1" r="6.8"/>
<circle cx="542.7" cy="657.4" r="6.8"/>
<circle cx="543.7" cy="669.4" r="6.8"/>
<circle cx="544.7" cy="647.3" r="6.8"/>
<circle cx="545.7" cy="624.6" r="6.8"/>
<circle cx="546.7" cy="632.8" r="6.8"/>
<circle cx="547.7" cy="662.9" r="6.8"/>
<circle cx="548.7" cy="661.5" r="6.8"/>
<circle cx="549.7" cy="656.0" r="6.8"/>
<circle cx="550.7" cy="643.4" r="6.8"/>
<circle cx="551.7" cy="651.2" r="6.8"/>
<circle cx="552.7" cy="644.6" r="6.8"/>
<circle cx="553.7" cy="643.3" r="6.8"/>
<circle cx="554.7" cy="652.7" r="6.8"/>
<circle cx="555.7" cy="648.6" r="6.8"/>
<circle cx="556.8" cy="644.7" r="6.8"/>
<circle cx="557.8" cy="649.3" r="6.8"/>
<circle cx="558.8" cy="640.0" r="6.8"/>
<circle cx="559.8" cy="618.4" r="6.8"/>
<circle cx="560.8" cy="638.6" r="6.8"/>
<circle cx="561.8" cy="647.1" r="6.8"/>
<circle cx="562.8" cy="674.6" r="6.8"/>
<circle cx="563.8" cy="641.9" r="6.8"/>
<circle cx="564.8" cy="678.8" r="6.8"/>
<circle cx="565.8" cy="670.3" r="6.8"/>
<circle cx="566.8" cy="634.5" r="6.8"/>
<circle cx="567.8" cy="636.8" r="6.8"/>
<circle cx="568.8" cy="650.4" r="6.8"/>
<circle cx="569.8" cy="675.0" r="6.8"/>
<circle cx="570.8" cy="653.9" r="6.8"/>
<circle cx="571.8" cy="658.7" r="6.8"/>
<circle cx="572.8" cy="637.9" r="6.8"/>
<circle cx="573.8" cy="612.3" r="6.8"/>
<circle cx="574.8" cy="644.6" r="6.8"/>
<circle cx="575.8" cy="660.3" r="6.8"/>
<circle cx="576.8" cy="666.5" r="6.8"/>
<circle cx="577.8" cy="648.9" r="6.8"/>
<circle cx="578.8" cy="650.8" r="6.8"/>
<circle cx="579.8" cy="666.2" r="6.8"/>
<circle cx="580.8" cy="646.1" r="6.8"/>
<circle cx="581.8" cy="666.2" r="6.8"/>
<circle cx="582.8" cy="630.4" r="6.8"/>
<circle cx="583.8" cy="631.2" r="6.8"/>
<circle cx="584.8" cy="630.8" r="6.8"/>
<circle cx="585.8" cy="655.5" r="6.8"/>
<circle cx="586.8" cy="639.9" r="6.8"/>
<circle cx="587.8" cy="650.1" r="6.8"/>
<circle cx="588.8" cy="654.1" r="6.8"/>
<circle cx="589.8" cy="653.3" r="6.8"/>
<circle cx="590.8" cy="668.5" r="6.8"/>
<circle cx="591.8" cy="670.8" r="6.8"/>
<circle cx="592.8" cy="635.4" r="6.8"/>
<circle cx="593.8" cy="651.0" r="6.8"/>
<circle cx="594.8" cy="644.6" r="6.8"/>
<circle cx="595.8" cy="632.1" r="6.8"/>
<circle cx="596.8" cy="675.4" r="6.8"/>
<circle cx="597.8" cy="660.4" r="6.8"/>
<circle cx="598.8" cy="645.2" r="6.8"/>
<circle cx="599.8" cy="641.8" r="6.8"/>
<circle cx="600.8" cy="653.9" r="6.8"/>
<circle cx="601.8" cy="631.7" r="6.8"/>
<circle cx="602.8" cy="644.7" r="6.8"/>
<circle cx="603.8" cy="667.2" r="6.8"/>
<circle cx="604.8" cy="662.7" r="6.8"/>
<circle cx="605.8" cy="635.3" r="6.8"/>
<circle cx="606.8" cy="734.5" r="6.8"/>
<circle cx="607.8" cy="738.5" r="6.8"/>
<circle cx="608.8" cy="733.0" r="6.8"/>
<circle cx="609.8" cy="734.3" r="6.8"/>
<circle cx="610.8" cy="733.0" r="6.8"/>
<circle cx="611.8" cy="736.0" r="6.8"/>
<circle cx="612.8" cy="735.8" r="6.8"/>
<circle cx="613.8" cy="737.2" r="6.8"/>
<circle cx="614.8" cy="731.0" r="6.8"/>
<circle cx="615.8" cy="735.6" r="6.8"/>
<circle cx="616.8" cy="732.6" r="6.8"/>
<circle cx="617.8" cy="736.4" r="6.8"/>
<circle cx="618.8" cy="735.0" r="6.8"/>
<circle cx="619.8" cy="738.1" r="6.8"/>
<circle cx="620.8" cy="736.0" r="6.8"/>
<circle cx="621.8" cy="733.6" r="6.8"/>
<circle cx="622.8" cy="737.4" r="6.8"/>
<circle cx="623.8" cy="733.5" r="6.8"/>
<circle cx="624.8" cy="734.7" r="6.8"/>
<circle cx="625.8" cy="737.1" r="6.8"/>
<circle cx="626.8" cy="736.2" r="6.8"/>
<circle cx="627.8" cy="736.1" r="6.8"/>
<circle cx="628.8" cy="735.4" r="6.8"/>
<circle cx="629.8" cy="736.2" r="6.8"/>
<circle cx="630.8" cy="736.7" r="6.8"/>
<circle cx="631.8" cy="735.8" r="6.8"/>
<circle cx="632.8" cy="737.0" r="6.8"/>
<circle cx="633.8" cy="737.5" r="6.8"/>
<circle cx="634.8" cy="735.4" r="6.8"/>
<circle cx="635.8" cy="733.8" r="6.8"/>
<circle cx="636.8" cy="737.9" r="6.8"/>
<circle cx="637.8" cy="735.3" r="6.8"/>
<circle cx="638.8" cy="736.4" r="6.8"/>
<circle cx="639.8" cy="737.0" r="6.8"/>
<circle cx="640.8" cy="733.9" r="6.8"/>
<circle cx="641.8" cy="736.2" r="6.8"/>
<circle cx="642.8" cy="732.8" r="6.8"/>
<circle cx="643.8" cy="736.6" r="6.8"/>
<circle cx="644.8" cy="734.6" r="6.8"/>
<circle cx="645.8" cy="735.7" r="6.8"/>
<circle cx="646.8" cy="736.6" r="6.8"/>
<circle cx="647.8" cy="712.2" r="6.8"/>
<circle cx="648.8" cy="715.7" r="6.8"/>
<circle cx="649.8" cy="712.1" r="6.8"/>
<circle cx="650.8" cy="715.2" r="6.8"/>
<circle cx="651.8" cy="720.1" r="6.8"/>
<circle cx="652.8" cy="715.5" r="6.8"/>
<circle cx="653.8" cy="714.7" r="6.8"/>
<circle cx="654.8" cy="710.5" r="6.8"/>
<circle cx="655.8" cy="719.2" r="6.8"/>
<circle cx="656.8" cy="715.2" r="6.8"/>
<circle cx="657.8" cy="723.1" r="6.8"/>
<circle cx="658.9" cy="711.9" r="6.8"/>
<circle cx="659.9" cy="720.1" r="6.8"/>
<circle cx="660.9" cy="723.5" r="6.8"/>
<circle cx="661.9" cy="715.3" r="6.8"/>
<circle cx="662.9" cy="709.8" r="6.8"/>
<circle cx="663.9" cy="722.1" r="6.8"/>
<circle cx="664.9" cy="720.1" r="6.8"/>
<circle cx="665.9" cy="718.5" r="6.8"/>
<circle cx="666.9" cy="720.3" r="6.8"/>
<circle cx="667.9" cy="713.2" r="6.8"/>
<circle cx="668.9" cy="718.8" r="6.8"/>
<circle cx="669.9" cy="718.4" r="6.8"/>
<circle cx="670.9" cy="712.2" r="6.8"/>
<circle cx="671.9" cy="718.5" r="6.8"/>
<circle cx="672.9" cy="712.9" r="6.8"/>
<circle cx="673.9" cy="719.5" r="6.8"/>
<circle cx="674.9" cy="720.7" r="6.8"/>
<circle cx="675.9" cy="723.6" r="6.8"/>
<circle cx="676.9" cy="706.2" r="6.8"/>
<circle cx="677.9" cy="716.5" r="6.8"/>
<circle cx="678.9" cy="713.8" r="6.8"/>
<circle cx="679.9" cy="715.1" r="6.8"/>
<circle cx="680.9" cy="714.2" r="6.8"/>
<circle cx="681.9" cy="714.7" r="6.8"/>
<circle cx="682.9" cy="706.0" r="6.8"/>
<circle cx="683.9" cy="719.9" r="6.8"/>
<circle cx="684.9" cy="722.3" r="6.8"/>
<circle cx="685.9" cy="719.7" r="6.8"/>
<circle cx="686.9" cy="721.3" r="6.8"/>
<circle cx="687.9" cy="711.5" r="6.8"/>
<circle cx="688.9" cy="711.1" r="6.8"/>
<circle cx="689.9" cy="719.5" r="6.8"/>
<circle cx="690.9" cy="721.5" r="6.8"/>
<circle cx="691.9" cy="716.6" r="6.8"/>
<circle cx="692.9" cy="708.4" r="6.8"/>
<circle cx="693.9" cy="728.2" r="6.8"/>
<circle cx="694.9" cy="712.5" r="6.8"/>
<circle cx="695.9" cy="720.0" r="6.8"/>
<circle cx="696.9" cy="710.1" r="6.8"/>
<circle cx="697.9" cy="720.0" r="6.8"/>
<circle cx="698.9" cy="716.3" r="6.8"/>
<circle cx="699.9" cy="722.1" r="6.8"/>
<circle cx="700.9" cy="719.6" r="6.8"/>
<circle cx="701.9" cy="708.5" r="6.8"/>
<circle cx="702.9" cy="711.1" r="6.8"/>
<circle cx="703.9" cy="716.9" r="6.8"/>
<circle cx="704.9" cy="719.1" r="6.8"/>
<circle cx="705.9" cy="723.9" r="6.8"/>
<circle cx="706.9" cy="716.8" r="6.8"/>
<circle cx="707.9" cy="715.1" r="6.8"/>
<circle cx="708.9" cy="715.4" r="6.8"/>
<circle cx="709.9" cy="715.4" r="6.8"/>
<circle cx="710.9" cy="720.3" r="6.8"/>
<circle cx="711.9" cy="715.3" r="6.8"/>
<circle cx="712.9" cy="715.2" r="6.8"/>
<circle cx="713.9" cy="708.9" r="6.8"/>
<circle cx="714.9" cy="706.2" r="6.8"/>
<circle cx="715.9" cy="715.6" r="6.8"/>
<circle cx="716.9" cy="718.6" r="6.8"/>
<circle cx="717.9" cy="715.3" r="6.8"/>
<circle cx="718.9" cy="717.8" r="6.8"/>
<circle cx="719.9" cy="718.5" r="6.8"/>
<circle cx="720.9" cy="715.3" r="6.8"/>
<circle cx="721.9" cy="719.9" r="6.8"/>
<circle cx="722.9" cy="712.1" r="6.8"/>
<circle cx="723.9" cy="715.5" r="6.8"/>
<circle cx="724.9" cy="713.8" r="6.8"/>
<circle cx="725.9" cy="715.8" r="6.8"/>
<circle cx="726.9" cy="718.4" r="6.8"/>
<circle cx="727.9" cy="719.4" r="6.8"/>
<circle cx="728.9" cy="716.1" r="6.8"/>
<circle cx="729.9" cy="717.6" r="6.8"/>
<circle cx="730.9" cy="713.9" r="6.8"/>
<circle cx="731.9" cy="715.0" r="6.8"/>
<circle cx="732.9" cy="721.4" r="6.8"/>
<circle cx="733.9" cy="714.7" r="6.8"/>
<circle cx="734.9" cy="721.3" r="6.8"/>
<circle cx="735.9" cy="717.9" r="6.8"/>
<circle cx="736.9" cy="716.4" r="6.8"/>
<circle cx="737.9" cy="724.7" r="6.8"/>
<circle cx="738.9" cy="714.5" r="6.8"/>
<circle cx="739.9" cy="714.3" r="6.8"/>
<circle cx="740.9" cy="715.7" r="6.8"/>
<circle cx="741.9" cy="717.0" r="6.8"/>
<circle cx="742.9" cy="716.7" r="6.8"/>
<circle cx="743.9" cy="719.6" r="6.8"/>
<circle cx="744.9" cy="716.2" r="6.8"/>
<circle cx="745.9" cy="717.6" r="6.8"/>
<circle cx="746.9" cy="714.5" r="6.8"/>
<circle cx="747.9" cy="720.6" r="6.8"/>
<circle cx="748.9" cy="713.9" r="6.8"/>
<circle cx="749.9" cy="714.3" r="6.8"/>
<circle cx="750.9" cy="715.6" r="6.8"/>
<circle cx="751.9" cy="717.0" r="6.8"/>
<circle cx="752.9" cy="712.4" r="6.8"/>
<circle cx="753.9" cy="722.8" r="6.8"/>
<circle cx="754.9" cy="712.8" r="6.8"/>
<circle cx="755.9" cy="713.8" r="6.8"/>
<circle cx="756.9" cy="713.6" r="6.8"/>
<circle cx="757.9" cy="713.2" r="6.8"/>
<circle cx="758.9" cy="718.1" r="6.8"/>
<circle cx="759.9" cy="716.2" r="6.8"/>
<circle cx="761.0" cy="712.0" r="6.8"/>
<circle cx="762.0" cy="713.0" r="6.8"/>
<circle cx="763.0" cy="714.0" r="6.8"/>
<circle cx="764.0" cy="722.1" r="6.8"/>
<circle cx="765.0" cy="712.4" r="6.8"/>
<circle cx="766.0" cy="709.5" r="6.8"/>
<circle cx="767.0" cy="710.2" r="6.8"/>
<circle cx="768.0" cy="713.9" r="6.8"/>
<circle cx="769.0" cy="722.3" r="6.8"/>
<circle cx="770.0" cy="710.5" r="6.8"/>
<circle cx="771.0" cy="715.7" r="6.8"/>
<circle cx="772.0" cy="726.9" r="6.8"/>
<circle cx="773.0" cy="713.2" r="6.8"/>
<circle cx="774.0" cy="722.0" r="6.8"/>
<circle cx="775.0" cy="721.1" r="6.8"/>
<circle cx="776.0" cy="718.0" r="6.8"/>
<circle cx="777.0" cy="709.0" r="6.8"/>
<circle cx="778.0" cy="716.7" r="6.8"/>
<circle cx="779.0" cy="713.7" r="6.8"/>
<circle cx="780.0" cy="706.8" r="6.8"/>
<circle cx="781.0" cy="707.5" r="6.8"/>
<circle cx="782.0" cy="715.5" r="6.8"/>
<circle cx="783.0" cy="716.1" r="6.8"/>
<circle cx="784.0" cy="720.9" r="6.8"/>
<circle cx="785.0" cy="718.2" r="6.8"/>
<circle cx="786.0" cy="713.0" r="6.8"/>
<circle cx="787.0" cy="713.1" r="6.8"/>
<circle cx="788.0" cy="714.5" r="6.8"/>
<circle cx="789.0" cy="710.3" r="6.8"/>
<circle cx="790.0" cy="718.6" r="6.8"/>
<circle cx="791.0" cy="715.2" r="6.8"/>
<circle cx="792.0" cy="711.5" r="6.8"/>
<circle cx="793.0" cy="712.2" r="6.8"/>
<circle cx="794.0" cy="709.9" r="6.8"/>
<circle cx="795.0" cy="713.1" r="6.8"/>
<circle cx="796.0" cy="716.4" r="6.8"/>
<circle cx="797.0" cy="713.3" r="6.8"/>
<circle cx="798.0" cy="719.7" r="6.8"/>
<circle cx="799.0" cy="722.7" r="6.8"/>
<circle cx="800.0" cy="712.2" r="6.8"/>
<circle cx="801.0" cy="715.2" r="6.8"/>
<circle cx="802.0" cy="713.5" r="6.8"/>
<circle cx="803.0" cy="723.0" r="6.8"/>
<circle cx="804.0" cy="716.7" r="6.8"/>
<circle cx="805.0" cy="717.8" r="6.8"/>
<circle cx="806.0" cy="719.0" r="6.8"/>
<circle cx="807.0" cy="725.6" r="6.8"/>
<circle cx="808.0" cy="716.6" r="6.8"/>
<circle cx="809.0" cy="710.8" r="6.8"/>
<circle cx="810.0" cy="713.2" r="6.8"/>
<circle cx="811.0" cy="717.8" r="6.8"/>
<circle cx="812.0" cy="715.0" r="6.8"/>
<circle cx="813.0" cy="711.4" r="6.8"/>
<circle cx="814.0" cy="728.0" r="6.8"/>
<circle cx="815.0" cy="715.6" r="6.8"/>
<circle cx="816.0" cy="712.4" r="6.8"/>
<circle cx="817.0" cy="711.8" r="6.8"/>
<circle cx="818.0" cy="707.0" r="6.8"/>
<circle cx="819.0" cy="709.6" r="6.8"/>
<circle cx="820.0" cy="713.5" r="6.8"/>
<circle cx="821.0" cy="713.6" r="6.8"/>
<circle cx="822.0" cy="711.3" r="6.8"/>
<circle cx="823.0" cy="717.5" r="6.8"/>
<circle cx="824.0" cy="715.2" r="6.8"/>
<circle cx="825.0" cy="710.7" r="6.8"/>
<circle cx="826.0" cy="705.8" r="6.8"/>
<circle cx="827.0" cy="715.7" r="6.8"/>
<circle cx="828.0" cy="715.2" r="6.8"/>
<circle cx="829.0" cy="714.0" r="6.8"/>
<circle cx="830.0" cy="708.7" r="6.8"/>
<circle cx="831.0" cy="715.1" r="6.8"/>
<circle cx="832.0" cy="708.1" r="6.8"/>
<circle cx="833.0" cy="719.5" r="6.8"/>
<circle cx="834.0" cy="715.9" r="6.8"/>
<circle cx="835.0" cy="715.9" r="6.8"/>
<circle cx="836.0" cy="711.3" r="6.8"/>
<circle cx="837.0" cy="710.1" r="6.8"/>
<circle cx="838.0" cy="722.1" r="6.8"/>
<circle cx="839.0" cy="719.3" r="6.8"/>
<circle cx="840.0" cy="713.4" r="6.8"/>
<circle cx="841.0" cy="718.1" r="6.8"/>
<circle cx="842.0" cy="722.1" r="6.8"/>
<circle cx="843.0" cy="710.1" r="6.8"/>
<circle cx="844.0" cy="712.7" r="6.8"/>
<circle cx="845.0" cy="712.7" r="6.8"/>
<circle cx="846.0" cy="717.2" r="6.8"/>
<circle cx="847.0" cy="710.1" r="6.8"/>
<circle cx="848.0" cy="716.1" r="6.8"/>
<circle cx="849.0" cy="709.8" r="6.8"/>
<circle cx="850.0" cy="719.3" r="6.8"/>
<circle cx="851.0" cy="719.0" r="6.8"/>
<circle cx="852.0" cy="714.0" r="6.8"/>
<circle cx="853.0" cy="718.3" r="6.8"/>
<circle cx="854.0" cy="711.8" r="6.8"/>
<circle cx="855.0" cy="713.8" r="6.8"/>
<circle cx="856.0" cy="719.3" r="6.8"/>
<circle cx="857.0" cy="714.6" r="6.8"/>
<circle cx="858.0" cy="716.6" r="6.8"/>
<circle cx="859.0" cy="710.7" r="6.8"/>
<circle cx="860.0" cy="718.0" r="6.8"/>
<circle cx="861.0" cy="717.0" r="6.8"/>
<circle cx="862.0" cy="709.3" r="6.8"/>
<circle cx="863.0" cy="704.4" r="6.8"/>
<circle cx="864.1" cy="705.6" r="6.8"/>
<circle cx="865.1" cy="332.2" r="6.8"/>
<circle cx="866.1" cy="324.9" r="6.8"/>
<circle cx="867.1" cy="263.1" r="6.8"/>
<circle cx="868.1" cy="341.1" r="6.8"/>
<circle cx="869.1" cy="381.2" r="6.8"/>
<circle cx="870.1" cy="329.7" r="6.8"/>
<circle cx="871.1" cy="314.0" r="6.8"/>
<circle cx="872.1" cy="374.2" r="6.8"/>
<circle cx="873.1" cy="412.7" r="6.8"/>
<circle cx="874.1" cy="402.8" r="6.8"/>
<circle cx="875.1" cy="303.9" r="6.8"/>
<circle cx="876.1" cy="370.9" r="6.8"/>
<circle cx="877.1" cy="341.9" r="6.8"/>
<circle cx="878.1" cy="325.2" r="6.8"/>
<circle cx="879.1" cy="306.1" r="6.8"/>
<circle cx="880.1" cy="351.0" r="6.8"/>
<circle cx="881.1" cy="311.8" r="6.8"/>
<circle cx="882.1" cy="377.1" r="6.8"/>
<circle cx="883.1" cy="352.2" r="6.8"/>
<circle cx="884.1" cy="383.4" r="6.8"/>
<circle cx="885.1" cy="282.0" r="6.8"/>
<circle cx="886.1" cy="336.5" r="6.8"/>
<circle cx="887.1" cy="370.0" r="6.8"/>
<circle cx="888.1" cy="351.8" r="6.8"/>
<circle cx="889.1" cy="345.7" r="6.8"/>
<circle cx="890.1" cy="302.3" r="6.8"/>
<circle cx="891.1" cy="410.3" r="6.8"/>
<circle cx="892.1" cy="384.0" r="6.8"/>
<circle cx="893.1" cy="353.0" r="6.8"/>
<circle cx="894.1" cy="241.1" r="6.8"/>
<circle cx="895.1" cy="290.3" r="6.8"/>
<circle cx="896.1" cy="340.5" r="6.8"/>
<circle cx="897.1" cy="301.7" r="6.8"/>
<circle cx="898.1" cy="241.1" r="6.8"/>
<circle cx="899.1" cy="346.2" r="6.8"/>
<circle cx="900.1" cy="352.5" r="6.8"/>
<circle cx="901.1" cy="278.2" r="6.8"/>
<circle cx="902.1" cy="312.0" r="6.8"/>
<circle cx="903.1" cy="303.6" r="6.8"/>
<circle cx="904.1" cy="359.1" r="6.8"/>
<circle cx="905.1" cy="244.7" r="6.8"/>
<circle cx="906.1" cy="254.8" r="6.8"/>
<circle cx="907.1" cy="308.6" r="6.8"/>
<circle cx="908.1" cy="303.0" r="6.8"/>
<circle cx="909.1" cy="430.6" r="6.8"/>
<circle cx="910.1" cy="305.2" r="6.8"/>
<circle cx="911.1" cy="344.4" r="6.8"/>
<circle cx="912.1" cy="314.8" r="6.8"/>
<circle cx="913.1" cy="303.1" r="6.8"/>
<circle cx="914.1" cy="351.3" r="6.8"/>
<circle cx="915.1" cy="414.8" r="6.8"/>
<circle cx="916.1" cy="317.9" r="6.8"/>
<circle cx="917.1" cy="370.1" r="6.8"/>
<circle cx="918.1" cy="350.8" r="6.8"/>
<circle cx="919.1" cy="363.7" r="6.8"/>
<circle cx="920.1" cy="351.3" r="6.8"/>
<circle cx="921.1" cy="443.9" r="6.8"/>
<circle cx="922.1" cy="278.0" r="6.8"/>
<circle cx="923.1" cy="323.3" r="6.8"/>
<circle cx="924.1" cy="282.9" r="6.8"/>
<circle cx="925.1" cy="242.1" r="6.8"/>
<circle cx="926.1" cy="334.2" r="6.8"/>
<circle cx="927.1" cy="420.0" r="6.8"/>
<circle cx="928.1" cy="377.3" r="6.8"/>
<circle cx="929.1" cy="392.0" r="6.8"/>
<circle cx="930.1" cy="358.8" r="6.8"/>
<circle cx="931.1" cy="331.5" r="6.8"/>
<circle cx="932.1" cy="429.4" r="6.8"/>
<circle cx="933.1" cy="319.1" r="6.8"/>
<circle cx="934.1" cy="406.3" r="6.8"/>
<circle cx="935.1" cy="321.2" r="6.8"/>
<circle cx="936.1" cy="340.4" r="6.8"/>
<circle cx="937.1" cy="350.0" r="6.8"/>
<circle cx="938.1" cy="338.7" r="6.8"/>
<circle cx="939.1" cy="360.6" r="6.8"/>
<circle cx="940.1" cy="364.0" r="6.8"/>
<circle cx="941.1" cy="414.4" r="6.8"/>
<circle cx="942.1" cy="336.6" r="6.8"/>
<circle cx="943.1" cy="248.4" r="6.8"/>
<circle cx="944.1" cy="242.0" r="6.8"/>
<circle cx="945.1" cy="273.0" r="6.8"/>
<circle cx="946.1" cy="302.0" r="6.8"/>
<circle cx="947.1" cy="367.0" r="6.8"/>
<circle cx="948.1" cy="267.3" r="6.8"/>
<circle cx="949.1" cy="337.9" r="6.8"/>
<circle cx="950.1" cy="338.5" r="6.8"/>
<circle cx="951.1" cy="348.9" r="6.8"/>
<circle cx="952.1" cy="330.9" r="6.8"/>
<circle cx="953.1" cy="355.7" r="6.8"/>
<circle cx="954.1" cy="339.2" r="6.8"/>
<circle cx="955.1" cy="386.2" r="6.8"/>
<circle cx="956.1" cy="352.8" r="6.8"/>
<circle cx="957.1" cy="241.1" r="6.8"/>
<circle cx="958.1" cy="338.5" r="6.8"/>
<circle cx="959.1" cy="346.4" r="6.8"/>
<circle cx="960.1" cy="310.2" r="6.8"/>
<circle cx="961.1" cy="301.9" r="6.8"/>
<circle cx="962.1" cy="387.6" r="6.8"/>
<circle cx="963.1" cy="345.0" r="6.8"/>
<circle cx="964.1" cy="292.0" r="6.8"/>
<circle cx="965.1" cy="322.5" r="6.8"/>
<circle cx="966.2" cy="329.5" r="6.8"/>
<circle cx="967.2" cy="262.1" r="6.8"/>
<circle cx="968.2" cy="367.1" r="6.8"/>
<circle cx="969.2" cy="331.3" r="6.8"/>
<circle cx="970.2" cy="359.7" r="6.8"/>
<circle cx="971.2" cy="265.1" r="6.8"/>
<circle cx="972.2" cy="427.0" r="6.8"/>
<circle cx="973.2" cy="366.7" r="6.8"/>
<circle cx="974.2" cy="360.1" r="6.8"/>
<circle cx="975.2" cy="304.0" r="6.8"/>
<circle cx="976.2" cy="306.7" r="6.8"/>
<circle cx="977.2" cy="670.3" r="6.8"/>
<circle cx="978.2" cy="709.4" r="6.8"/>
<circle cx="979.2" cy="678.7" r="6.8"/>
<circle cx="980.2" cy="692.5" r="6.8"/>
<circle cx="981.2" cy="697.4" r="6.8"/>
<circle cx="982.2" cy="681.5" r="6.8"/>
<circle cx="983.2" cy="700.8" r="6.8"/>
<circle cx="984.2" cy="716.0" r="6.8"/>
<circle cx="985.2" cy="693.5" r="6.8"/>
<circle cx="986.2" cy="708.4" r="6.8"/>
<circle cx="987.2" cy="697.2" r="6.8"/>
<circle cx="988.2" cy="683.7" r="6.8"/>
<circle cx="989.2" cy="684.5" r="6.8"/>
<circle cx="990.2" cy="667.7" r="6.8"/>
<circle cx="991.2" cy="691.3" r="6.8"/>
<circle cx="992.2" cy="708.8" r="6.8"/>
<circle cx="993.2" cy="698.6" r="6.8"/>
<circle cx="994.2" cy="700.7" r="6.8"/>
<circle cx="995.2" cy="704.7" r="6.8"/>
<circle cx="996.2" cy="682.9" r="6.8"/>
<circle cx="997.2" cy="697.1" r="6.8"/>
<circle cx="998.2" cy="595.0" r="6.8"/>
<circle cx="999.2" cy="514.5" r="6.8"/>
<circle cx="1000.2" cy="538.8" r="6.8"/>
<circle cx="1001.2" cy="524.7" r="6.8"/>
<circle cx="1002.2" cy="532.3" r="6.8"/>
<circle cx="1003.2" cy="516.4" r="6.8"/>
<circle cx="1004.2" cy="534.3" r="6.8"/>
<circle cx="1005.2" cy="498.2" r="6.8"/>
<circle cx="1006.2" cy="522.7" r="6.8"/>
<circle cx="1007.2" cy="523.6" r="6.8"/>
<circle cx="1008.2" cy="523.1" r="6.8"/>
<circle cx="1009.2" cy="579.3" r="6.8"/>
<circle cx="1010.2" cy="540.4" r="6.8"/>
<circle cx="1011.2" cy="543.3" r="6.8"/>
<circle cx="1012.2" cy="529.2" r="6.8"/>
<circle cx="1013.2" cy="576.4" r="6.8"/>
<circle cx="1014.2" cy="486.2" r="6.8"/>
<circle cx="1015.2" cy="532.3" r="6.8"/>
<circle cx="1016.2" cy="571.9" r="6.8"/>
<circle cx="1017.2" cy="586.9" r="6.8"/>
<circle cx="1018.2" cy="543.9" r="6.8"/>
<circle cx="1019.2" cy="538.1" r="6.8"/>
<circle cx="1020.2" cy="557.1" r="6.8"/>
<circle cx="1021.2" cy="532.7" r="6.8"/>
<circle cx="1022.2" cy="554.8" r="6.8"/>
<circle cx="1023.2" cy="518.8" r="6.8"/>
<circle cx="1024.2" cy="557.3" r="6.8"/>
<circle cx="1025.2" cy="536.6" r="6.8"/>
<circle cx="1026.2" cy="506.0" r="6.8"/>
<circle cx="1027.2" cy="458.0" r="6.8"/>
<circle cx="1028.2" cy="565.8" r="6.8"/>
<circle cx="1029.2" cy="729.9" r="6.8"/>
<circle cx="1030.2" cy="731.1" r="6.8"/>
<circle cx="1031.2" cy="726.2" r="6.8"/>
<circle cx="1032.2" cy="732.0" r="6.8"/>
<circle cx="1033.2" cy="730.0" r="6.8"/>
<circle cx="1034.2" cy="728.6" r="6.8"/>
<circle cx="1035.2" cy="731.5" r="6.8"/>
<circle cx="1036.2" cy="731.4" r="6.8"/>
<circle cx="1037.2" cy="730.0" r="6.8"/>
<circle cx="1038.2" cy="734.9" r="6.8"/>
<circle cx="1039.2" cy="732.9" r="6.8"/>
<circle cx="1040.2" cy="729.8" r="6.8"/>
<circle cx="1041.2" cy="728.1" r="6.8"/>
<circle cx="1042.2" cy="729.1" r="6.8"/>
<circle cx="1043.2" cy="733.9" r="6.8"/>
<circle cx="1044.2" cy="729.9" r="6.8"/>
<circle cx="1045.2" cy="726.1" r="6.8"/>
<circle cx="1046.2" cy="726.9" r="6.8"/>
<circle cx="1047.2" cy="728.8" r="6.8"/>
<circle cx="1048.2" cy="731.2" r="6.8"/>
<circle cx="1049.2" cy="726.6" r="6.8"/>
<circle cx="1050.2" cy="730.3" r="6.8"/>
<circle cx="1051.2" cy="732.0" r="6.8"/>
<circle cx="1052.2" cy="730.9" r="6.8"/>
<circle cx="1053.2" cy="724.2" r="6.8"/>
<circle cx="1054.2" cy="727.9" r="6.8"/>
<circle cx="1055.2" cy="725.0" r="6.8"/>
<circle cx="1056.2" cy="730.0" r="6.8"/>
<circle cx="1057.2" cy="725.7" r="6.8"/>
<circle cx="1058.2" cy="730.3" r="6.8"/>
<circle cx="1059.2" cy="729.0" r="6.8"/>
<circle cx="1060.2" cy="721.0" r="6.8"/>
<circle cx="1061.2" cy="726.2" r="6.8"/>
<circle cx="1062.2" cy="730.0" r="6.8"/>
<circle cx="1063.2" cy="728.8" r="6.8"/>
<circle cx="1064.2" cy="727.5" r="6.8"/>
<circle cx="1065.2" cy="724.9" r="6.8"/>
<circle cx="1066.2" cy="730.0" r="6.8"/>
<circle cx="1067.2" cy="733.8" r="6.8"/>
<circle cx="1068.2" cy="729.4" r="6.8"/>
<circle cx="1069.3" cy="728.5" r="6.8"/>
<circle cx="1070.3" cy="728.2" r="6.8"/>
<circle cx="1071.3" cy="724.6" r="6.8"/>
<circle cx="1072.3" cy="727.6" r="6.8"/>
<circle cx="1073.3" cy="726.1" r="6.8"/>
<circle cx="1074.3" cy="731.8" r="6.8"/>
<circle cx="1075.3" cy="725.9" r="6.8"/>
<circle cx="1076.3" cy="722.2" r="6.8"/>
<circle cx="1077.3" cy="726.2" r="6.8"/>
<circle cx="1078.3" cy="727.8" r="6.8"/>
<circle cx="1079.3" cy="728.1" r="6.8"/>
<circle cx="1080.3" cy="723.1" r="6.8"/>
<circle cx="1081.3" cy="731.3" r="6.8"/>
<circle cx="1082.3" cy="728.9" r="6.8"/>
<circle cx="1083.3" cy="727.1" r="6.8"/>
<circle cx="1084.3" cy="726.3" r="6.8"/>
<circle cx="1085.3" cy="729.8" r="6.8"/>
<circle cx="1086.3" cy="727.6" r="6.8"/>
<circle cx="1087.3" cy="729.4" r="6.8"/>
<circle cx="1088.3" cy="728.2" r="6.8"/>
<circle cx="1089.3" cy="728.9" r="6.8"/>
<circle cx="1090.3" cy="732.0" r="6.8"/>
<circle cx="1091.3" cy="728.6" r="6.8"/>
<circle cx="1092.3" cy="725.9" r="6.8"/>
<circle cx="1093.3" cy="731.4" r="6.8"/>
<circle cx="1094.3" cy="729.3" r="6.8"/>
<circle cx="1095.3" cy="726.5" r="6.8"/>
<circle cx="1096.3" cy="731.7" r="6.8"/>
<circle cx="1097.3" cy="728.0" r="6.8"/>
<circle cx="1098.3" cy="731.7" r="6.8"/>
<circle cx="1099.3" cy="725.1" r="6.8"/>
<circle cx="1100.3" cy="721.6" r="6.8"/>
<circle cx="1101.3" cy="722.4" r="6.8"/>
<circle cx="1102.3" cy="729.2" r="6.8"/>
<circle cx="1103.3" cy="726.3" r="6.8"/>
<circle cx="1104.3" cy="728.2" r="6.8"/>
<circle cx="1105.3" cy="728.2" r="6.8"/>
<circle cx="1106.3" cy="723.9" r="6.8"/>
<circle cx="1107.3" cy="732.5" r="6.8"/>
<circle cx="1108.3" cy="725.3" r="6.8"/>
<circle cx="1109.3" cy="728.7" r="6.8"/>
<circle cx="1110.3" cy="724.3" r="6.8"/>
<circle cx="1111.3" cy="728.0" r="6.8"/>
<circle cx="1112.3" cy="730.6" r="6.8"/>
<circle cx="1113.3" cy="727.7" r="6.8"/>
<circle cx="1114.3" cy="726.3" r="6.8"/>
<circle cx="1115.3" cy="728.4" r="6.8"/>
<circle cx="1116.3" cy="727.1" r="6.8"/>
<circle cx="1117.3" cy="730.1" r="6.8"/>
<circle cx="1118.3" cy="735.0" r="6.8"/>
<circle cx="1119.3" cy="725.8" r="6.8"/>
<circle cx="1120.3" cy="726.4" r="6.8"/>
<circle cx="1121.3" cy="728.1" r="6.8"/>
<circle cx="1122.3" cy="728.3" r="6.8"/>
<circle cx="1123.3" cy="725.4" r="6.8"/>
<circle cx="1124.3" cy="729.9" r="6.8"/>
<circle cx="1125.3" cy="730.7" r="6.8"/>
<circle cx="1126.3" cy="729.1" r="6.8"/>
<circle cx="1127.3" cy="724.9" r="6.8"/>
<circle cx="1128.3" cy="732.7" r="6.8"/>
<circle cx="1129.3" cy="724.9" r="6.8"/>
<circle cx="1130.3" cy="730.5" r="6.8"/>
<circle cx="1131.3" cy="731.8" r="6.8"/>
<circle cx="1132.3" cy="724.7" r="6.8"/>
<circle cx="1133.3" cy="728.8" r="6.8"/>
<circle cx="1134.3" cy="732.4" r="6.8"/>
<circle cx="1135.3" cy="729.6" r="6.8"/>
<circle cx="1136.3" cy="725.7" r="6.8"/>
<circle cx="1137.3" cy="724.9" r="6.8"/>
<circle cx="1138.3" cy="729.8" r="6.8"/>
<circle cx="1139.3" cy="727.3" r="6.8"/>
<circle cx="1140.3" cy="726.4" r="6.8"/>
<circle cx="1141.3" cy="730.5" r="6.8"/>
<circle cx="1142.3" cy="727.5" r="6.8"/>
<circle cx="1143.3" cy="728.6" r="6.8"/>
<circle cx="1144.3" cy="730.1" r="6.8"/>
<circle cx="1145.3" cy="730.0" r="6.8"/>
<circle cx="1146.3" cy="728.3" r="6.8"/>
<circle cx="1147.3" cy="728.4" r="6.8"/>
<circle cx="1148.3" cy="730.2" r="6.8"/>
<circle cx="1149.3" cy="729.8" r="6.8"/>
<circle cx="1150.3" cy="725.2" r="6.8"/>
<circle cx="1151.3" cy="727.9" r="6.8"/>
<circle cx="1152.3" cy="725.9" r="6.8"/>
<circle cx="1153.3" cy="724.9" r="6.8"/>
<circle cx="1154.3" cy="726.8" r="6.8"/>
<circle cx="1155.3" cy="721.7" r="6.8"/>
<circle cx="1156.3" cy="731.0" r="6.8"/>
<circle cx="1157.3" cy="726.1" r="6.8"/>
<circle cx="1158.3" cy="729.5" r="6.8"/>
<circle cx="1159.3" cy="722.9" r="6.8"/>
<circle cx="1160.3" cy="723.4" r="6.8"/>
<circle cx="1161.3" cy="734.4" r="6.8"/>
<circle cx="1162.3" cy="731.4" r="6.8"/>
<circle cx="1163.3" cy="726.5" r="6.8"/>
<circle cx="1164.3" cy="726.1" r="6.8"/>
<circle cx="1165.3" cy="726.3" r="6.8"/>
<circle cx="1166.3" cy="728.7" r="6.8"/>
<circle cx="1167.3" cy="727.2" r="6.8"/>
<circle cx="1168.3" cy="726.6" r="6.8"/>
<circle cx="1169.3" cy="728.8" r="6.8"/>
<circle cx="1170.3" cy="725.4" r="6.8"/>
<circle cx="1171.4" cy="735.3" r="6.8"/>
<circle cx="1172.4" cy="726.6" r="6.8"/>
<circle cx="1173.4" cy="731.6" r="6.8"/>
<circle cx="1174.4" cy="725.6" r="6.8"/>
<circle cx="1175.4" cy="729.2" r="6.8"/>
<circle cx="1176.4" cy="731.2" r="6.8"/>
<circle cx="1177.4" cy="727.4" r="6.8"/>
<circle cx="1178.4" cy="731.3" r="6.8"/>
<circle cx="1179.4" cy="731.3" r="6.8"/>
<circle cx="1180.4" cy="733.2" r="6.8"/>
<circle cx="1181.4" cy="728.6" r="6.8"/>
<circle cx="1182.4" cy="727.0" r="6.8"/>
<circle cx="1183.4" cy="725.4" r="6.8"/>
<circle cx="1184.4" cy="729.0" r="6.8"/>
<circle cx="1185.4" cy="725.4" r="6.8"/>
<circle cx="1186.4" cy="728.5" r="6.8"/>
<circle cx="1187.4" cy="728.8" r="6.8"/>
<circle cx="1188.4" cy="726.8" r="6.8"/>
<circle cx="1189.4" cy="725.3" r="6.8"/>
<circle cx="1190.4" cy="729.6" r="6.8"/>
<circle cx="1191.4" cy="729.3" r="6.8"/>
<circle cx="1192.4" cy="729.0" r="6.8"/>
<circle cx="1193.4" cy="728.3" r="6.8"/>
<circle cx="1194.4" cy="731.2" r="6.8"/>
<circle cx="1195.4" cy="725.4" r="6.8"/>
<circle cx="1196.4" cy="729.7" r="6.8"/>
<circle cx="1197.4" cy="727.1" r="6.8"/>
<circle cx="1198.4" cy="731.0" r="6.8"/>
<circle cx="1199.4" cy="727.4" r="6.8"/>
<circle cx="1200.4" cy="727.3" r="6.8"/>
<circle cx="1201.4" cy="729.8" r="6.8"/>
<circle cx="1202.4" cy="722.4" r="6.8"/>
<circle cx="1203.4" cy="727.4" r="6.8"/>
<circle cx="1204.4" cy="723.2" r="6.8"/>
<circle cx="1205.4" cy="725.6" r="6.8"/>
<circle cx="1206.4" cy="730.5" r="6.8"/>
<circle cx="1207.4" cy="729.7" r="6.8"/>
<circle cx="1208.4" cy="727.2" r="6.8"/>
<circle cx="1209.4" cy="728.3" r="6.8"/>
<circle cx="1210.4" cy="728.4" r="6.8"/>
<circle cx="1211.4" cy="729.4" r="6.8"/>
<circle cx="1212.4" cy="734.0" r="6.8"/>
<circle cx="1213.4" cy="729.2" r="6.8"/>
<circle cx="1214.4" cy="735.2" r="6.8"/>
<circle cx="1215.4" cy="727.4" r="6.8"/>
<circle cx="1216.4" cy="730.7" r="6.8"/>
<circle cx="1217.4" cy="730.7" r="6.8"/>
<circle cx="1218.4" cy="729.2" r="6.8"/>
<circle cx="1219.4" cy="727.7" r="6.8"/>
<circle cx="1220.4" cy="732.8" r="6.8"/>
<circle cx="1221.4" cy="733.8" r="6.8"/>
<circle cx="1222.4" cy="731.7" r="6.8"/>
<circle cx="455.0" cy="685.0" r="6.8"/>
<circle cx="455.0" cy="711.0" r="6.8"/>
<circle cx="381.0" cy="658.8" r="6.8"/>
<circle cx="862.5" cy="465.0" r="6.8"/>
<circle cx="880.0" cy="435.0" r="6.8"/>
<circle cx="906.0" cy="460.0" r="6.8"/>
<circle cx="940.0" cy="454.0" r="6.8"/>
<circle cx="971.0" cy="465.0" r="6.8"/>
<circle cx="979.0" cy="386.0" r="6.8"/>
<circle cx="866.0" cy="257.0" r="6.8"/>
<circle cx="872.0" cy="262.0" r="6.8"/>
<circle cx="912.0" cy="256.0" r="6.8"/>
<circle cx="918.0" cy="262.0" r="6.8"/>
</g>
<path d="M198.4 726.5H262.3V731.7H293.5V705.5H302.5V588.7H309.0V583.7H326.0V699.5H332.5V733.0H342.0V737.5H350.0V703.8H390.6V701.2H421.9V687.5H430.0V733.0H437.5V734.4H453.8V650.0H485.0V648.8H518.0V656.0H550.0V652.0H582.5V657.5H590.0V642.0H598.0V619.5H606.0V725.0H613.0V733.0H646.4V718.8H654.0V716.2H662.5V717.0H678.0V715.8H694.0V718.2H709.5V719.8H750.0V719.4H774.5V717.4H790.6V721.4H806.7V719.0H838.2V702.7H846.5V701.9H854.3V713.5H863.0V388.8H870.0V415.0H886.2V417.5H893.8V422.5H902.5V363.8H910.8V357.5H918.8V369.5H926.2V365.5H936.2V391.2H942.5V387.0H950.0V372.0H957.5V365.0H974.2V641.0H983.0V663.5H990.0V659.7H997.9V542.7H1014.0V585.0H1022.7V634.5H1029.4V727.6H1093.6V730.1H1223.3" stroke="#DF536B" stroke-width="3"/>
<path d="M198.4 727.5H229.5V726.5H262.3V730.1H293.5V709.3H302.7V534.8H309.0V539.0H317.9V542.0H325.2V650.5H334.0V738.1H341.9V735.6H350.0V705.0H373.8V706.2H390.6V698.0H406.2V676.2H414.0V671.9H421.9V695.0H430.0V726.2H437.5V737.5H453.8V643.0H462.5V638.0H470.0V663.8H485.0V655.0H501.2V650.0H518.0V641.2H526.2V650.0H533.8V657.5H550.0V655.0H567.5V652.5H582.5V639.5H597.5V620.0H605.5V719.0H614.0V735.5H646.4V727.7H662.5V725.0H670.2V721.8H678.6V712.3H694.0V714.0H701.2V712.6H710.7V717.6H750.7V715.8H758.5V718.2H774.5V713.8H790.6V721.4H806.7V717.6H838.2V704.8H846.5V704.0H854.3V711.7H863.0V513.8H870.5V378.8H877.5V371.2H886.2V365.0H893.8V442.5H902.5V437.0H910.0V442.5H918.8V423.0H934.5V265.5H942.5V263.8H950.0V289.5H967.3V504.0H974.6V693.5H982.6V674.7H990.0V672.9H997.9V545.6H1014.0V586.4H1021.8V601.0H1030.5V725.2H1046.2V730.1H1062.9V724.7H1078.0V727.3H1110.0V728.3H1150.0V727.3H1175.0V727.8H1223.3" stroke="#2297E6" stroke-width="3"/>
</g>
<rect x="157.44" y="157.44" width="1105.92" height="606.72" fill="none" stroke="#000" stroke-width="2"/>
<path d="M197.40 764.16H1198.38M197.40 764.16V783.36M397.60 764.16V783.36M597.79 764.16V783.36M797.99 764.16V783.36M998.18 764.16V783.36M1198.38 764.16V783.36" stroke="#000" stroke-width="2" fill="none"/>
<path d="M157.44 741.70V177.14M157.44 741.70H138.24M157.44 553.52H138.24M157.44 365.33H138.24M157.44 177.14H138.24" stroke="#000" stroke-width="2" fill="none"/>
<text transform="translate(197.40 833) scale(1.14 1)" font-family="Liberation Sans, sans-serif" font-size="32" text-anchor="middle">0</text>
<text transform="translate(397.60 833) scale(1.14 1)" font-family="Liberation Sans, sans-serif" font-size="32" text-anchor="middle">200</text>
<text transform="translate(597.79 833) scale(1.14 1)" font-family="Liberation Sans, sans-serif" font-size="32" text-anchor="middle">400</text>
<text transform="translate(797.99 833) scale(1.14 1)" font-family="Liberation Sans, sans-serif" font-size="32" text-anchor="middle">600</text>
<text transform="translate(998.18 833) scale(1.14 1)" font-family="Liberation Sans, sans-serif" font-size="32" text-anchor="middle">800</text>
<text transform="translate(1198.38 833) scale(1.14 1)" font-family="Liberation Sans, sans-serif" font-size="32" text-anchor="middle">1000</text>
<text transform="translate(110.6 741.70) rotate(-90) scale(1.067 1)" font-family="Liberation Sans, sans-serif" font-size="33" text-anchor="middle">0</text>
<text transform="translate(110.6 553.52) rotate(-90) scale(1.067 1)" font-family="Liberation Sans, sans-serif" font-size="33" text-anchor="middle">50</text>
<text transform="translate(110.6 365.33) rotate(-90) scale(1.067 1)" font-family="Liberation Sans, sans-serif" font-size="33" text-anchor="middle">100</text>
<text transform="translate(110.6 177.14) rotate(-90) scale(1.067 1)" font-family="Liberation Sans, sans-serif" font-size="33" text-anchor="middle">150</text>
<text transform="translate(34.8 460.8) rotate(-90) scale(1.156 1)" font-family="Liberation Sans, sans-serif" font-size="32" text-anchor="middle">x(median of all runs)</text>
<text transform="translate(710.6 93) scale(1.118 1)" font-family="Liberation Sans, sans-serif" font-size="39.5" font-weight="bold" stroke="#000" stroke-width="1" text-anchor="middle">split_runmed_dwt</text>
<rect x="964.8" y="157.44" width="298.56" height="192.1" fill="#fff" stroke="#000" stroke-width="2"/>
<path d="M992.6 195.7H1051.8" stroke="#000" stroke-width="2"/>
<text transform="translate(1079.6 207.0) scale(1.109 1)" font-family="Liberation Sans, sans-serif" font-size="32">True mean</text>
<path d="M992.6 234.1H1051.8" stroke="#DF536B" stroke-width="2"/>
<text transform="translate(1079.6 245.4) scale(1.222 1)" font-family="Liberation Sans, sans-serif" font-size="32">best fit</text>
<path d="M992.6 272.5H1051.8" stroke="#2297E6" stroke-width="2"/>
<text transform="translate(1079.6 283.8) scale(1.193 1)" font-family="Liberation Sans, sans-serif" font-size="32">worst fit</text>
<path d="M992.6 310.9H1051.8" stroke="#CCCCCC" stroke-width="2"/>
<text transform="translate(1079.6 322.2) scale(1.169 1)" font-family="Liberation Sans, sans-serif" font-size="32">all others</text>
</svg></body></html>
